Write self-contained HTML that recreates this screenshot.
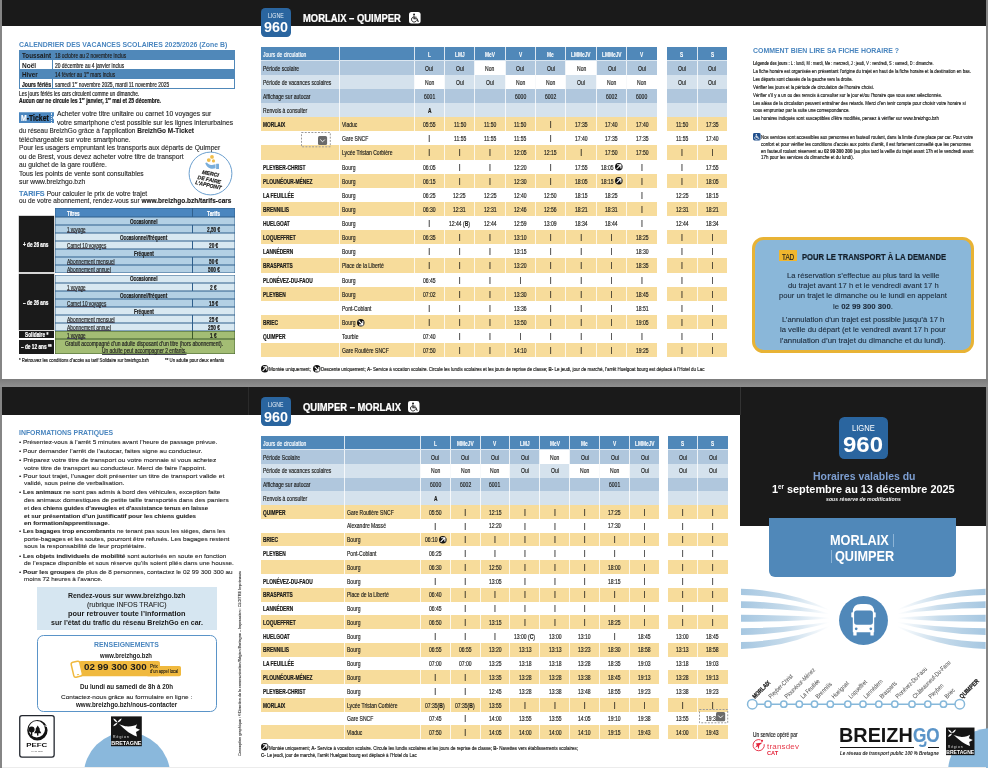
<!DOCTYPE html>
<html lang="fr"><head><meta charset="utf-8"><title>BreizhGo ligne 960 Morlaix – Quimper</title><style>
html,body{margin:0;padding:0}
body{width:988px;height:768px;overflow:hidden;background:#858585;position:relative;font-family:"Liberation Sans",sans-serif;color:#1d1d1b}
.b{position:absolute}
.t{position:absolute;white-space:nowrap;line-height:1;transform-origin:0 0}
svg{position:absolute;overflow:visible}
</style></head>
<body>
<div class="b" style="left:2.20px;top:0.00px;width:983.70px;height:378.50px;background:#fff;"></div>
<div class="b" style="left:2.20px;top:387.00px;width:983.70px;height:381.00px;background:#fff;"></div>
<div class="b" style="left:0.00px;top:378.50px;width:988.00px;height:8.50px;background:linear-gradient(#7c7c7c,#8f8f8f);"></div>
<div class="b" style="left:2.20px;top:0.00px;width:983.70px;height:25.70px;background:#1a1a1a;"></div>
<div class="b" style="left:2.20px;top:387.00px;width:246.00px;height:27.60px;background:#1a1a1a;"></div>
<div class="b" style="left:248.00px;top:387.00px;width:738.00px;height:28.10px;background:#1a1a1a;"></div>
<div class="b" style="left:740.20px;top:387.00px;width:245.70px;height:138.70px;background:#1a1a1a;"></div>
<div class="b" style="left:247.60px;top:387.00px;width:0.70px;height:28.00px;background:#2a2a2a;"></div>
<div class="b" style="left:739.80px;top:387.00px;width:0.80px;height:28.10px;background:#333;"></div>
<div class="b" style="left:261.00px;top:47.00px;width:396.00px;height:14.00px;background:#dce7f1;"></div>
<div class="b" style="left:667.00px;top:47.00px;width:60.00px;height:14.00px;background:#dce7f1;"></div>
<div class="b" style="left:261.00px;top:61.00px;width:396.00px;height:14.00px;background:#eff4f8;"></div>
<div class="b" style="left:667.00px;top:61.00px;width:60.00px;height:14.00px;background:#eff4f8;"></div>
<div class="b" style="left:261.00px;top:75.00px;width:396.00px;height:14.00px;background:#f7f9fb;"></div>
<div class="b" style="left:667.00px;top:75.00px;width:60.00px;height:14.00px;background:#f7f9fb;"></div>
<div class="b" style="left:261.00px;top:89.00px;width:396.00px;height:14.00px;background:#eff4f8;"></div>
<div class="b" style="left:667.00px;top:89.00px;width:60.00px;height:14.00px;background:#eff4f8;"></div>
<div class="b" style="left:261.00px;top:103.00px;width:396.00px;height:14.00px;background:#f7f9fb;"></div>
<div class="b" style="left:667.00px;top:103.00px;width:60.00px;height:14.00px;background:#f7f9fb;"></div>
<div class="b" style="left:261.00px;top:117.00px;width:396.00px;height:14.00px;background:#fdf8eb;"></div>
<div class="b" style="left:667.00px;top:117.00px;width:60.00px;height:14.00px;background:#fdf8eb;"></div>
<div class="b" style="left:261.00px;top:145.00px;width:396.00px;height:15.00px;background:#fdf8eb;"></div>
<div class="b" style="left:667.00px;top:145.00px;width:60.00px;height:15.00px;background:#fdf8eb;"></div>
<div class="b" style="left:261.00px;top:174.00px;width:396.00px;height:14.00px;background:#fdf8eb;"></div>
<div class="b" style="left:667.00px;top:174.00px;width:60.00px;height:14.00px;background:#fdf8eb;"></div>
<div class="b" style="left:261.00px;top:202.00px;width:396.00px;height:14.00px;background:#fdf8eb;"></div>
<div class="b" style="left:667.00px;top:202.00px;width:60.00px;height:14.00px;background:#fdf8eb;"></div>
<div class="b" style="left:261.00px;top:230.00px;width:396.00px;height:14.00px;background:#fdf8eb;"></div>
<div class="b" style="left:667.00px;top:230.00px;width:60.00px;height:14.00px;background:#fdf8eb;"></div>
<div class="b" style="left:261.00px;top:258.00px;width:396.00px;height:15.00px;background:#fdf8eb;"></div>
<div class="b" style="left:667.00px;top:258.00px;width:60.00px;height:15.00px;background:#fdf8eb;"></div>
<div class="b" style="left:261.00px;top:287.00px;width:396.00px;height:14.00px;background:#fdf8eb;"></div>
<div class="b" style="left:667.00px;top:287.00px;width:60.00px;height:14.00px;background:#fdf8eb;"></div>
<div class="b" style="left:261.00px;top:315.00px;width:396.00px;height:14.00px;background:#fdf8eb;"></div>
<div class="b" style="left:667.00px;top:315.00px;width:60.00px;height:14.00px;background:#fdf8eb;"></div>
<div class="b" style="left:261.00px;top:343.00px;width:396.00px;height:14.00px;background:#fdf8eb;"></div>
<div class="b" style="left:667.00px;top:343.00px;width:60.00px;height:14.00px;background:#fdf8eb;"></div>
<div class="b" style="left:261.00px;top:436.00px;width:398.00px;height:14.00px;background:#dce7f1;"></div>
<div class="b" style="left:668.00px;top:436.00px;width:60.00px;height:14.00px;background:#dce7f1;"></div>
<div class="b" style="left:261.00px;top:450.00px;width:398.00px;height:14.00px;background:#eff4f8;"></div>
<div class="b" style="left:668.00px;top:450.00px;width:60.00px;height:14.00px;background:#eff4f8;"></div>
<div class="b" style="left:261.00px;top:464.00px;width:398.00px;height:14.00px;background:#f7f9fb;"></div>
<div class="b" style="left:668.00px;top:464.00px;width:60.00px;height:14.00px;background:#f7f9fb;"></div>
<div class="b" style="left:261.00px;top:478.00px;width:398.00px;height:13.00px;background:#eff4f8;"></div>
<div class="b" style="left:668.00px;top:478.00px;width:60.00px;height:13.00px;background:#eff4f8;"></div>
<div class="b" style="left:261.00px;top:491.00px;width:398.00px;height:14.00px;background:#f7f9fb;"></div>
<div class="b" style="left:668.00px;top:491.00px;width:60.00px;height:14.00px;background:#f7f9fb;"></div>
<div class="b" style="left:261.00px;top:505.00px;width:398.00px;height:14.00px;background:#fdf8eb;"></div>
<div class="b" style="left:668.00px;top:505.00px;width:60.00px;height:14.00px;background:#fdf8eb;"></div>
<div class="b" style="left:261.00px;top:533.00px;width:398.00px;height:13.00px;background:#fdf8eb;"></div>
<div class="b" style="left:668.00px;top:533.00px;width:60.00px;height:13.00px;background:#fdf8eb;"></div>
<div class="b" style="left:261.00px;top:560.00px;width:398.00px;height:14.00px;background:#fdf8eb;"></div>
<div class="b" style="left:668.00px;top:560.00px;width:60.00px;height:14.00px;background:#fdf8eb;"></div>
<div class="b" style="left:261.00px;top:588.00px;width:398.00px;height:14.00px;background:#fdf8eb;"></div>
<div class="b" style="left:668.00px;top:588.00px;width:60.00px;height:14.00px;background:#fdf8eb;"></div>
<div class="b" style="left:261.00px;top:615.00px;width:398.00px;height:14.00px;background:#fdf8eb;"></div>
<div class="b" style="left:668.00px;top:615.00px;width:60.00px;height:14.00px;background:#fdf8eb;"></div>
<div class="b" style="left:261.00px;top:643.00px;width:398.00px;height:14.00px;background:#fdf8eb;"></div>
<div class="b" style="left:668.00px;top:643.00px;width:60.00px;height:14.00px;background:#fdf8eb;"></div>
<div class="b" style="left:261.00px;top:670.00px;width:398.00px;height:14.00px;background:#fdf8eb;"></div>
<div class="b" style="left:668.00px;top:670.00px;width:60.00px;height:14.00px;background:#fdf8eb;"></div>
<div class="b" style="left:261.00px;top:698.00px;width:398.00px;height:14.00px;background:#fdf8eb;"></div>
<div class="b" style="left:668.00px;top:698.00px;width:60.00px;height:14.00px;background:#fdf8eb;"></div>
<div class="b" style="left:261.00px;top:725.00px;width:398.00px;height:14.00px;background:#fdf8eb;"></div>
<div class="b" style="left:668.00px;top:725.00px;width:60.00px;height:14.00px;background:#fdf8eb;"></div>
<div class="b" style="left:261.00px;top:47.00px;width:78.00px;height:13.00px;background:#5088b9;"></div>
<div class="b" style="left:340.00px;top:47.00px;width:74.00px;height:13.00px;background:#5088b9;"></div>
<div class="b" style="left:415.00px;top:47.00px;width:29.00px;height:13.00px;background:#5088b9;"></div>
<div class="b" style="left:445.00px;top:47.00px;width:29.00px;height:13.00px;background:#5088b9;"></div>
<div class="b" style="left:475.00px;top:47.00px;width:30.00px;height:13.00px;background:#5088b9;"></div>
<div class="b" style="left:506.00px;top:47.00px;width:29.00px;height:13.00px;background:#5088b9;"></div>
<div class="b" style="left:536.00px;top:47.00px;width:29.00px;height:13.00px;background:#5088b9;"></div>
<div class="b" style="left:566.00px;top:47.00px;width:30.00px;height:13.00px;background:#5088b9;"></div>
<div class="b" style="left:597.00px;top:47.00px;width:29.00px;height:13.00px;background:#5088b9;"></div>
<div class="b" style="left:627.00px;top:47.00px;width:30.00px;height:13.00px;background:#5088b9;"></div>
<div class="b" style="left:667.00px;top:47.00px;width:30.00px;height:13.00px;background:#5088b9;"></div>
<div class="b" style="left:698.00px;top:47.00px;width:29.00px;height:13.00px;background:#5088b9;"></div>
<div class="b" style="left:261.00px;top:61.00px;width:78.00px;height:14.00px;background:#b0c7dd;"></div>
<div class="b" style="left:340.00px;top:61.00px;width:74.00px;height:14.00px;background:#b0c7dd;"></div>
<div class="b" style="left:415.00px;top:61.00px;width:29.00px;height:14.00px;background:#b0c7dd;"></div>
<div class="b" style="left:445.00px;top:61.00px;width:29.00px;height:14.00px;background:#b0c7dd;"></div>
<div class="b" style="left:475.00px;top:61.00px;width:30.00px;height:14.00px;background:#fff;"></div>
<div class="b" style="left:506.00px;top:61.00px;width:29.00px;height:14.00px;background:#b0c7dd;"></div>
<div class="b" style="left:536.00px;top:61.00px;width:29.00px;height:14.00px;background:#b0c7dd;"></div>
<div class="b" style="left:566.00px;top:61.00px;width:30.00px;height:14.00px;background:#fff;"></div>
<div class="b" style="left:597.00px;top:61.00px;width:29.00px;height:14.00px;background:#b0c7dd;"></div>
<div class="b" style="left:627.00px;top:61.00px;width:30.00px;height:14.00px;background:#b0c7dd;"></div>
<div class="b" style="left:667.00px;top:61.00px;width:30.00px;height:14.00px;background:#b0c7dd;"></div>
<div class="b" style="left:698.00px;top:61.00px;width:29.00px;height:14.00px;background:#b0c7dd;"></div>
<div class="b" style="left:261.00px;top:75.00px;width:78.00px;height:14.00px;background:#d5e2ed;"></div>
<div class="b" style="left:340.00px;top:75.00px;width:74.00px;height:14.00px;background:#d5e2ed;"></div>
<div class="b" style="left:415.00px;top:75.00px;width:29.00px;height:14.00px;background:#fff;"></div>
<div class="b" style="left:445.00px;top:75.00px;width:29.00px;height:14.00px;background:#d5e2ed;"></div>
<div class="b" style="left:475.00px;top:75.00px;width:30.00px;height:14.00px;background:#d5e2ed;"></div>
<div class="b" style="left:506.00px;top:75.00px;width:29.00px;height:14.00px;background:#fff;"></div>
<div class="b" style="left:536.00px;top:75.00px;width:29.00px;height:14.00px;background:#fff;"></div>
<div class="b" style="left:566.00px;top:75.00px;width:30.00px;height:14.00px;background:#d5e2ed;"></div>
<div class="b" style="left:597.00px;top:75.00px;width:29.00px;height:14.00px;background:#fff;"></div>
<div class="b" style="left:627.00px;top:75.00px;width:30.00px;height:14.00px;background:#fff;"></div>
<div class="b" style="left:667.00px;top:75.00px;width:30.00px;height:14.00px;background:#d5e2ed;"></div>
<div class="b" style="left:698.00px;top:75.00px;width:29.00px;height:14.00px;background:#d5e2ed;"></div>
<div class="b" style="left:261.00px;top:89.00px;width:78.00px;height:14.00px;background:#b0c7dd;"></div>
<div class="b" style="left:340.00px;top:89.00px;width:74.00px;height:14.00px;background:#b0c7dd;"></div>
<div class="b" style="left:415.00px;top:89.00px;width:29.00px;height:14.00px;background:#b0c7dd;"></div>
<div class="b" style="left:445.00px;top:89.00px;width:29.00px;height:14.00px;background:#b0c7dd;"></div>
<div class="b" style="left:475.00px;top:89.00px;width:30.00px;height:14.00px;background:#b0c7dd;"></div>
<div class="b" style="left:506.00px;top:89.00px;width:29.00px;height:14.00px;background:#b0c7dd;"></div>
<div class="b" style="left:536.00px;top:89.00px;width:29.00px;height:14.00px;background:#b0c7dd;"></div>
<div class="b" style="left:566.00px;top:89.00px;width:30.00px;height:14.00px;background:#b0c7dd;"></div>
<div class="b" style="left:597.00px;top:89.00px;width:29.00px;height:14.00px;background:#b0c7dd;"></div>
<div class="b" style="left:627.00px;top:89.00px;width:30.00px;height:14.00px;background:#b0c7dd;"></div>
<div class="b" style="left:667.00px;top:89.00px;width:30.00px;height:14.00px;background:#b0c7dd;"></div>
<div class="b" style="left:698.00px;top:89.00px;width:29.00px;height:14.00px;background:#b0c7dd;"></div>
<div class="b" style="left:261.00px;top:103.00px;width:78.00px;height:14.00px;background:#d5e2ed;"></div>
<div class="b" style="left:340.00px;top:103.00px;width:74.00px;height:14.00px;background:#d5e2ed;"></div>
<div class="b" style="left:415.00px;top:103.00px;width:29.00px;height:14.00px;background:#d5e2ed;"></div>
<div class="b" style="left:445.00px;top:103.00px;width:29.00px;height:14.00px;background:#d5e2ed;"></div>
<div class="b" style="left:475.00px;top:103.00px;width:30.00px;height:14.00px;background:#d5e2ed;"></div>
<div class="b" style="left:506.00px;top:103.00px;width:29.00px;height:14.00px;background:#d5e2ed;"></div>
<div class="b" style="left:536.00px;top:103.00px;width:29.00px;height:14.00px;background:#d5e2ed;"></div>
<div class="b" style="left:566.00px;top:103.00px;width:30.00px;height:14.00px;background:#d5e2ed;"></div>
<div class="b" style="left:597.00px;top:103.00px;width:29.00px;height:14.00px;background:#d5e2ed;"></div>
<div class="b" style="left:627.00px;top:103.00px;width:30.00px;height:14.00px;background:#d5e2ed;"></div>
<div class="b" style="left:667.00px;top:103.00px;width:30.00px;height:14.00px;background:#d5e2ed;"></div>
<div class="b" style="left:698.00px;top:103.00px;width:29.00px;height:14.00px;background:#d5e2ed;"></div>
<div class="b" style="left:261.00px;top:117.00px;width:78.00px;height:14.00px;background:#f7dc9b;"></div>
<div class="b" style="left:340.00px;top:117.00px;width:74.00px;height:14.00px;background:#f7dc9b;"></div>
<div class="b" style="left:415.00px;top:117.00px;width:29.00px;height:14.00px;background:#f7dc9b;"></div>
<div class="b" style="left:445.00px;top:117.00px;width:29.00px;height:14.00px;background:#f7dc9b;"></div>
<div class="b" style="left:475.00px;top:117.00px;width:30.00px;height:14.00px;background:#f7dc9b;"></div>
<div class="b" style="left:506.00px;top:117.00px;width:29.00px;height:14.00px;background:#f7dc9b;"></div>
<div class="b" style="left:536.00px;top:117.00px;width:29.00px;height:14.00px;background:#f7dc9b;"></div>
<div class="b" style="left:566.00px;top:117.00px;width:30.00px;height:14.00px;background:#f7dc9b;"></div>
<div class="b" style="left:597.00px;top:117.00px;width:29.00px;height:14.00px;background:#f7dc9b;"></div>
<div class="b" style="left:627.00px;top:117.00px;width:30.00px;height:14.00px;background:#f7dc9b;"></div>
<div class="b" style="left:667.00px;top:117.00px;width:30.00px;height:14.00px;background:#f7dc9b;"></div>
<div class="b" style="left:698.00px;top:117.00px;width:29.00px;height:14.00px;background:#f7dc9b;"></div>
<div class="b" style="left:261.00px;top:145.00px;width:78.00px;height:15.00px;background:#f7dc9b;"></div>
<div class="b" style="left:340.00px;top:145.00px;width:74.00px;height:15.00px;background:#f7dc9b;"></div>
<div class="b" style="left:415.00px;top:145.00px;width:29.00px;height:15.00px;background:#f7dc9b;"></div>
<div class="b" style="left:445.00px;top:145.00px;width:29.00px;height:15.00px;background:#f7dc9b;"></div>
<div class="b" style="left:475.00px;top:145.00px;width:30.00px;height:15.00px;background:#f7dc9b;"></div>
<div class="b" style="left:506.00px;top:145.00px;width:29.00px;height:15.00px;background:#f7dc9b;"></div>
<div class="b" style="left:536.00px;top:145.00px;width:29.00px;height:15.00px;background:#f7dc9b;"></div>
<div class="b" style="left:566.00px;top:145.00px;width:30.00px;height:15.00px;background:#f7dc9b;"></div>
<div class="b" style="left:597.00px;top:145.00px;width:29.00px;height:15.00px;background:#f7dc9b;"></div>
<div class="b" style="left:627.00px;top:145.00px;width:30.00px;height:15.00px;background:#f7dc9b;"></div>
<div class="b" style="left:667.00px;top:145.00px;width:30.00px;height:15.00px;background:#f7dc9b;"></div>
<div class="b" style="left:698.00px;top:145.00px;width:29.00px;height:15.00px;background:#f7dc9b;"></div>
<div class="b" style="left:261.00px;top:174.00px;width:78.00px;height:14.00px;background:#f7dc9b;"></div>
<div class="b" style="left:340.00px;top:174.00px;width:74.00px;height:14.00px;background:#f7dc9b;"></div>
<div class="b" style="left:415.00px;top:174.00px;width:29.00px;height:14.00px;background:#f7dc9b;"></div>
<div class="b" style="left:445.00px;top:174.00px;width:29.00px;height:14.00px;background:#f7dc9b;"></div>
<div class="b" style="left:475.00px;top:174.00px;width:30.00px;height:14.00px;background:#f7dc9b;"></div>
<div class="b" style="left:506.00px;top:174.00px;width:29.00px;height:14.00px;background:#f7dc9b;"></div>
<div class="b" style="left:536.00px;top:174.00px;width:29.00px;height:14.00px;background:#f7dc9b;"></div>
<div class="b" style="left:566.00px;top:174.00px;width:30.00px;height:14.00px;background:#f7dc9b;"></div>
<div class="b" style="left:597.00px;top:174.00px;width:29.00px;height:14.00px;background:#f7dc9b;"></div>
<div class="b" style="left:627.00px;top:174.00px;width:30.00px;height:14.00px;background:#f7dc9b;"></div>
<div class="b" style="left:667.00px;top:174.00px;width:30.00px;height:14.00px;background:#f7dc9b;"></div>
<div class="b" style="left:698.00px;top:174.00px;width:29.00px;height:14.00px;background:#f7dc9b;"></div>
<div class="b" style="left:261.00px;top:202.00px;width:78.00px;height:14.00px;background:#f7dc9b;"></div>
<div class="b" style="left:340.00px;top:202.00px;width:74.00px;height:14.00px;background:#f7dc9b;"></div>
<div class="b" style="left:415.00px;top:202.00px;width:29.00px;height:14.00px;background:#f7dc9b;"></div>
<div class="b" style="left:445.00px;top:202.00px;width:29.00px;height:14.00px;background:#f7dc9b;"></div>
<div class="b" style="left:475.00px;top:202.00px;width:30.00px;height:14.00px;background:#f7dc9b;"></div>
<div class="b" style="left:506.00px;top:202.00px;width:29.00px;height:14.00px;background:#f7dc9b;"></div>
<div class="b" style="left:536.00px;top:202.00px;width:29.00px;height:14.00px;background:#f7dc9b;"></div>
<div class="b" style="left:566.00px;top:202.00px;width:30.00px;height:14.00px;background:#f7dc9b;"></div>
<div class="b" style="left:597.00px;top:202.00px;width:29.00px;height:14.00px;background:#f7dc9b;"></div>
<div class="b" style="left:627.00px;top:202.00px;width:30.00px;height:14.00px;background:#f7dc9b;"></div>
<div class="b" style="left:667.00px;top:202.00px;width:30.00px;height:14.00px;background:#f7dc9b;"></div>
<div class="b" style="left:698.00px;top:202.00px;width:29.00px;height:14.00px;background:#f7dc9b;"></div>
<div class="b" style="left:261.00px;top:230.00px;width:78.00px;height:14.00px;background:#f7dc9b;"></div>
<div class="b" style="left:340.00px;top:230.00px;width:74.00px;height:14.00px;background:#f7dc9b;"></div>
<div class="b" style="left:415.00px;top:230.00px;width:29.00px;height:14.00px;background:#f7dc9b;"></div>
<div class="b" style="left:445.00px;top:230.00px;width:29.00px;height:14.00px;background:#f7dc9b;"></div>
<div class="b" style="left:475.00px;top:230.00px;width:30.00px;height:14.00px;background:#f7dc9b;"></div>
<div class="b" style="left:506.00px;top:230.00px;width:29.00px;height:14.00px;background:#f7dc9b;"></div>
<div class="b" style="left:536.00px;top:230.00px;width:29.00px;height:14.00px;background:#f7dc9b;"></div>
<div class="b" style="left:566.00px;top:230.00px;width:30.00px;height:14.00px;background:#f7dc9b;"></div>
<div class="b" style="left:597.00px;top:230.00px;width:29.00px;height:14.00px;background:#f7dc9b;"></div>
<div class="b" style="left:627.00px;top:230.00px;width:30.00px;height:14.00px;background:#f7dc9b;"></div>
<div class="b" style="left:667.00px;top:230.00px;width:30.00px;height:14.00px;background:#f7dc9b;"></div>
<div class="b" style="left:698.00px;top:230.00px;width:29.00px;height:14.00px;background:#f7dc9b;"></div>
<div class="b" style="left:261.00px;top:258.00px;width:78.00px;height:15.00px;background:#f7dc9b;"></div>
<div class="b" style="left:340.00px;top:258.00px;width:74.00px;height:15.00px;background:#f7dc9b;"></div>
<div class="b" style="left:415.00px;top:258.00px;width:29.00px;height:15.00px;background:#f7dc9b;"></div>
<div class="b" style="left:445.00px;top:258.00px;width:29.00px;height:15.00px;background:#f7dc9b;"></div>
<div class="b" style="left:475.00px;top:258.00px;width:30.00px;height:15.00px;background:#f7dc9b;"></div>
<div class="b" style="left:506.00px;top:258.00px;width:29.00px;height:15.00px;background:#f7dc9b;"></div>
<div class="b" style="left:536.00px;top:258.00px;width:29.00px;height:15.00px;background:#f7dc9b;"></div>
<div class="b" style="left:566.00px;top:258.00px;width:30.00px;height:15.00px;background:#f7dc9b;"></div>
<div class="b" style="left:597.00px;top:258.00px;width:29.00px;height:15.00px;background:#f7dc9b;"></div>
<div class="b" style="left:627.00px;top:258.00px;width:30.00px;height:15.00px;background:#f7dc9b;"></div>
<div class="b" style="left:667.00px;top:258.00px;width:30.00px;height:15.00px;background:#f7dc9b;"></div>
<div class="b" style="left:698.00px;top:258.00px;width:29.00px;height:15.00px;background:#f7dc9b;"></div>
<div class="b" style="left:261.00px;top:287.00px;width:78.00px;height:14.00px;background:#f7dc9b;"></div>
<div class="b" style="left:340.00px;top:287.00px;width:74.00px;height:14.00px;background:#f7dc9b;"></div>
<div class="b" style="left:415.00px;top:287.00px;width:29.00px;height:14.00px;background:#f7dc9b;"></div>
<div class="b" style="left:445.00px;top:287.00px;width:29.00px;height:14.00px;background:#f7dc9b;"></div>
<div class="b" style="left:475.00px;top:287.00px;width:30.00px;height:14.00px;background:#f7dc9b;"></div>
<div class="b" style="left:506.00px;top:287.00px;width:29.00px;height:14.00px;background:#f7dc9b;"></div>
<div class="b" style="left:536.00px;top:287.00px;width:29.00px;height:14.00px;background:#f7dc9b;"></div>
<div class="b" style="left:566.00px;top:287.00px;width:30.00px;height:14.00px;background:#f7dc9b;"></div>
<div class="b" style="left:597.00px;top:287.00px;width:29.00px;height:14.00px;background:#f7dc9b;"></div>
<div class="b" style="left:627.00px;top:287.00px;width:30.00px;height:14.00px;background:#f7dc9b;"></div>
<div class="b" style="left:667.00px;top:287.00px;width:30.00px;height:14.00px;background:#f7dc9b;"></div>
<div class="b" style="left:698.00px;top:287.00px;width:29.00px;height:14.00px;background:#f7dc9b;"></div>
<div class="b" style="left:261.00px;top:315.00px;width:78.00px;height:14.00px;background:#f7dc9b;"></div>
<div class="b" style="left:340.00px;top:315.00px;width:74.00px;height:14.00px;background:#f7dc9b;"></div>
<div class="b" style="left:415.00px;top:315.00px;width:29.00px;height:14.00px;background:#f7dc9b;"></div>
<div class="b" style="left:445.00px;top:315.00px;width:29.00px;height:14.00px;background:#f7dc9b;"></div>
<div class="b" style="left:475.00px;top:315.00px;width:30.00px;height:14.00px;background:#f7dc9b;"></div>
<div class="b" style="left:506.00px;top:315.00px;width:29.00px;height:14.00px;background:#f7dc9b;"></div>
<div class="b" style="left:536.00px;top:315.00px;width:29.00px;height:14.00px;background:#f7dc9b;"></div>
<div class="b" style="left:566.00px;top:315.00px;width:30.00px;height:14.00px;background:#f7dc9b;"></div>
<div class="b" style="left:597.00px;top:315.00px;width:29.00px;height:14.00px;background:#f7dc9b;"></div>
<div class="b" style="left:627.00px;top:315.00px;width:30.00px;height:14.00px;background:#f7dc9b;"></div>
<div class="b" style="left:667.00px;top:315.00px;width:30.00px;height:14.00px;background:#f7dc9b;"></div>
<div class="b" style="left:698.00px;top:315.00px;width:29.00px;height:14.00px;background:#f7dc9b;"></div>
<div class="b" style="left:261.00px;top:343.00px;width:78.00px;height:14.00px;background:#f7dc9b;"></div>
<div class="b" style="left:340.00px;top:343.00px;width:74.00px;height:14.00px;background:#f7dc9b;"></div>
<div class="b" style="left:415.00px;top:343.00px;width:29.00px;height:14.00px;background:#f7dc9b;"></div>
<div class="b" style="left:445.00px;top:343.00px;width:29.00px;height:14.00px;background:#f7dc9b;"></div>
<div class="b" style="left:475.00px;top:343.00px;width:30.00px;height:14.00px;background:#f7dc9b;"></div>
<div class="b" style="left:506.00px;top:343.00px;width:29.00px;height:14.00px;background:#f7dc9b;"></div>
<div class="b" style="left:536.00px;top:343.00px;width:29.00px;height:14.00px;background:#f7dc9b;"></div>
<div class="b" style="left:566.00px;top:343.00px;width:30.00px;height:14.00px;background:#f7dc9b;"></div>
<div class="b" style="left:597.00px;top:343.00px;width:29.00px;height:14.00px;background:#f7dc9b;"></div>
<div class="b" style="left:627.00px;top:343.00px;width:30.00px;height:14.00px;background:#f7dc9b;"></div>
<div class="b" style="left:667.00px;top:343.00px;width:30.00px;height:14.00px;background:#f7dc9b;"></div>
<div class="b" style="left:698.00px;top:343.00px;width:29.00px;height:14.00px;background:#f7dc9b;"></div>
<div class="b" style="left:261.00px;top:436.00px;width:83.00px;height:13.00px;background:#5088b9;"></div>
<div class="b" style="left:345.00px;top:436.00px;width:75.00px;height:13.00px;background:#5088b9;"></div>
<div class="b" style="left:421.00px;top:436.00px;width:29.00px;height:13.00px;background:#5088b9;"></div>
<div class="b" style="left:451.00px;top:436.00px;width:29.00px;height:13.00px;background:#5088b9;"></div>
<div class="b" style="left:481.00px;top:436.00px;width:28.00px;height:13.00px;background:#5088b9;"></div>
<div class="b" style="left:510.00px;top:436.00px;width:29.00px;height:13.00px;background:#5088b9;"></div>
<div class="b" style="left:540.00px;top:436.00px;width:29.00px;height:13.00px;background:#5088b9;"></div>
<div class="b" style="left:570.00px;top:436.00px;width:29.00px;height:13.00px;background:#5088b9;"></div>
<div class="b" style="left:600.00px;top:436.00px;width:29.00px;height:13.00px;background:#5088b9;"></div>
<div class="b" style="left:630.00px;top:436.00px;width:29.00px;height:13.00px;background:#5088b9;"></div>
<div class="b" style="left:668.00px;top:436.00px;width:29.00px;height:13.00px;background:#5088b9;"></div>
<div class="b" style="left:698.00px;top:436.00px;width:30.00px;height:13.00px;background:#5088b9;"></div>
<div class="b" style="left:261.00px;top:450.00px;width:83.00px;height:14.00px;background:#b0c7dd;"></div>
<div class="b" style="left:345.00px;top:450.00px;width:75.00px;height:14.00px;background:#b0c7dd;"></div>
<div class="b" style="left:421.00px;top:450.00px;width:29.00px;height:14.00px;background:#b0c7dd;"></div>
<div class="b" style="left:451.00px;top:450.00px;width:29.00px;height:14.00px;background:#b0c7dd;"></div>
<div class="b" style="left:481.00px;top:450.00px;width:28.00px;height:14.00px;background:#b0c7dd;"></div>
<div class="b" style="left:510.00px;top:450.00px;width:29.00px;height:14.00px;background:#b0c7dd;"></div>
<div class="b" style="left:540.00px;top:450.00px;width:29.00px;height:14.00px;background:#fff;"></div>
<div class="b" style="left:570.00px;top:450.00px;width:29.00px;height:14.00px;background:#b0c7dd;"></div>
<div class="b" style="left:600.00px;top:450.00px;width:29.00px;height:14.00px;background:#b0c7dd;"></div>
<div class="b" style="left:630.00px;top:450.00px;width:29.00px;height:14.00px;background:#b0c7dd;"></div>
<div class="b" style="left:668.00px;top:450.00px;width:29.00px;height:14.00px;background:#b0c7dd;"></div>
<div class="b" style="left:698.00px;top:450.00px;width:30.00px;height:14.00px;background:#b0c7dd;"></div>
<div class="b" style="left:261.00px;top:464.00px;width:83.00px;height:14.00px;background:#d5e2ed;"></div>
<div class="b" style="left:345.00px;top:464.00px;width:75.00px;height:14.00px;background:#d5e2ed;"></div>
<div class="b" style="left:421.00px;top:464.00px;width:29.00px;height:14.00px;background:#fff;"></div>
<div class="b" style="left:451.00px;top:464.00px;width:29.00px;height:14.00px;background:#fff;"></div>
<div class="b" style="left:481.00px;top:464.00px;width:28.00px;height:14.00px;background:#fff;"></div>
<div class="b" style="left:510.00px;top:464.00px;width:29.00px;height:14.00px;background:#d5e2ed;"></div>
<div class="b" style="left:540.00px;top:464.00px;width:29.00px;height:14.00px;background:#d5e2ed;"></div>
<div class="b" style="left:570.00px;top:464.00px;width:29.00px;height:14.00px;background:#fff;"></div>
<div class="b" style="left:600.00px;top:464.00px;width:29.00px;height:14.00px;background:#fff;"></div>
<div class="b" style="left:630.00px;top:464.00px;width:29.00px;height:14.00px;background:#d5e2ed;"></div>
<div class="b" style="left:668.00px;top:464.00px;width:29.00px;height:14.00px;background:#d5e2ed;"></div>
<div class="b" style="left:698.00px;top:464.00px;width:30.00px;height:14.00px;background:#d5e2ed;"></div>
<div class="b" style="left:261.00px;top:478.00px;width:83.00px;height:13.00px;background:#b0c7dd;"></div>
<div class="b" style="left:345.00px;top:478.00px;width:75.00px;height:13.00px;background:#b0c7dd;"></div>
<div class="b" style="left:421.00px;top:478.00px;width:29.00px;height:13.00px;background:#b0c7dd;"></div>
<div class="b" style="left:451.00px;top:478.00px;width:29.00px;height:13.00px;background:#b0c7dd;"></div>
<div class="b" style="left:481.00px;top:478.00px;width:28.00px;height:13.00px;background:#b0c7dd;"></div>
<div class="b" style="left:510.00px;top:478.00px;width:29.00px;height:13.00px;background:#b0c7dd;"></div>
<div class="b" style="left:540.00px;top:478.00px;width:29.00px;height:13.00px;background:#b0c7dd;"></div>
<div class="b" style="left:570.00px;top:478.00px;width:29.00px;height:13.00px;background:#b0c7dd;"></div>
<div class="b" style="left:600.00px;top:478.00px;width:29.00px;height:13.00px;background:#b0c7dd;"></div>
<div class="b" style="left:630.00px;top:478.00px;width:29.00px;height:13.00px;background:#b0c7dd;"></div>
<div class="b" style="left:668.00px;top:478.00px;width:29.00px;height:13.00px;background:#b0c7dd;"></div>
<div class="b" style="left:698.00px;top:478.00px;width:30.00px;height:13.00px;background:#b0c7dd;"></div>
<div class="b" style="left:261.00px;top:491.00px;width:83.00px;height:14.00px;background:#d5e2ed;"></div>
<div class="b" style="left:345.00px;top:491.00px;width:75.00px;height:14.00px;background:#d5e2ed;"></div>
<div class="b" style="left:421.00px;top:491.00px;width:29.00px;height:14.00px;background:#d5e2ed;"></div>
<div class="b" style="left:451.00px;top:491.00px;width:29.00px;height:14.00px;background:#d5e2ed;"></div>
<div class="b" style="left:481.00px;top:491.00px;width:28.00px;height:14.00px;background:#d5e2ed;"></div>
<div class="b" style="left:510.00px;top:491.00px;width:29.00px;height:14.00px;background:#d5e2ed;"></div>
<div class="b" style="left:540.00px;top:491.00px;width:29.00px;height:14.00px;background:#d5e2ed;"></div>
<div class="b" style="left:570.00px;top:491.00px;width:29.00px;height:14.00px;background:#d5e2ed;"></div>
<div class="b" style="left:600.00px;top:491.00px;width:29.00px;height:14.00px;background:#d5e2ed;"></div>
<div class="b" style="left:630.00px;top:491.00px;width:29.00px;height:14.00px;background:#d5e2ed;"></div>
<div class="b" style="left:668.00px;top:491.00px;width:29.00px;height:14.00px;background:#d5e2ed;"></div>
<div class="b" style="left:698.00px;top:491.00px;width:30.00px;height:14.00px;background:#d5e2ed;"></div>
<div class="b" style="left:261.00px;top:505.00px;width:83.00px;height:14.00px;background:#f7dc9b;"></div>
<div class="b" style="left:345.00px;top:505.00px;width:75.00px;height:14.00px;background:#f7dc9b;"></div>
<div class="b" style="left:421.00px;top:505.00px;width:29.00px;height:14.00px;background:#f7dc9b;"></div>
<div class="b" style="left:451.00px;top:505.00px;width:29.00px;height:14.00px;background:#f7dc9b;"></div>
<div class="b" style="left:481.00px;top:505.00px;width:28.00px;height:14.00px;background:#f7dc9b;"></div>
<div class="b" style="left:510.00px;top:505.00px;width:29.00px;height:14.00px;background:#f7dc9b;"></div>
<div class="b" style="left:540.00px;top:505.00px;width:29.00px;height:14.00px;background:#f7dc9b;"></div>
<div class="b" style="left:570.00px;top:505.00px;width:29.00px;height:14.00px;background:#f7dc9b;"></div>
<div class="b" style="left:600.00px;top:505.00px;width:29.00px;height:14.00px;background:#f7dc9b;"></div>
<div class="b" style="left:630.00px;top:505.00px;width:29.00px;height:14.00px;background:#f7dc9b;"></div>
<div class="b" style="left:668.00px;top:505.00px;width:29.00px;height:14.00px;background:#f7dc9b;"></div>
<div class="b" style="left:698.00px;top:505.00px;width:30.00px;height:14.00px;background:#f7dc9b;"></div>
<div class="b" style="left:261.00px;top:533.00px;width:83.00px;height:13.00px;background:#f7dc9b;"></div>
<div class="b" style="left:345.00px;top:533.00px;width:75.00px;height:13.00px;background:#f7dc9b;"></div>
<div class="b" style="left:421.00px;top:533.00px;width:29.00px;height:13.00px;background:#f7dc9b;"></div>
<div class="b" style="left:451.00px;top:533.00px;width:29.00px;height:13.00px;background:#f7dc9b;"></div>
<div class="b" style="left:481.00px;top:533.00px;width:28.00px;height:13.00px;background:#f7dc9b;"></div>
<div class="b" style="left:510.00px;top:533.00px;width:29.00px;height:13.00px;background:#f7dc9b;"></div>
<div class="b" style="left:540.00px;top:533.00px;width:29.00px;height:13.00px;background:#f7dc9b;"></div>
<div class="b" style="left:570.00px;top:533.00px;width:29.00px;height:13.00px;background:#f7dc9b;"></div>
<div class="b" style="left:600.00px;top:533.00px;width:29.00px;height:13.00px;background:#f7dc9b;"></div>
<div class="b" style="left:630.00px;top:533.00px;width:29.00px;height:13.00px;background:#f7dc9b;"></div>
<div class="b" style="left:668.00px;top:533.00px;width:29.00px;height:13.00px;background:#f7dc9b;"></div>
<div class="b" style="left:698.00px;top:533.00px;width:30.00px;height:13.00px;background:#f7dc9b;"></div>
<div class="b" style="left:261.00px;top:560.00px;width:83.00px;height:14.00px;background:#f7dc9b;"></div>
<div class="b" style="left:345.00px;top:560.00px;width:75.00px;height:14.00px;background:#f7dc9b;"></div>
<div class="b" style="left:421.00px;top:560.00px;width:29.00px;height:14.00px;background:#f7dc9b;"></div>
<div class="b" style="left:451.00px;top:560.00px;width:29.00px;height:14.00px;background:#f7dc9b;"></div>
<div class="b" style="left:481.00px;top:560.00px;width:28.00px;height:14.00px;background:#f7dc9b;"></div>
<div class="b" style="left:510.00px;top:560.00px;width:29.00px;height:14.00px;background:#f7dc9b;"></div>
<div class="b" style="left:540.00px;top:560.00px;width:29.00px;height:14.00px;background:#f7dc9b;"></div>
<div class="b" style="left:570.00px;top:560.00px;width:29.00px;height:14.00px;background:#f7dc9b;"></div>
<div class="b" style="left:600.00px;top:560.00px;width:29.00px;height:14.00px;background:#f7dc9b;"></div>
<div class="b" style="left:630.00px;top:560.00px;width:29.00px;height:14.00px;background:#f7dc9b;"></div>
<div class="b" style="left:668.00px;top:560.00px;width:29.00px;height:14.00px;background:#f7dc9b;"></div>
<div class="b" style="left:698.00px;top:560.00px;width:30.00px;height:14.00px;background:#f7dc9b;"></div>
<div class="b" style="left:261.00px;top:588.00px;width:83.00px;height:14.00px;background:#f7dc9b;"></div>
<div class="b" style="left:345.00px;top:588.00px;width:75.00px;height:14.00px;background:#f7dc9b;"></div>
<div class="b" style="left:421.00px;top:588.00px;width:29.00px;height:14.00px;background:#f7dc9b;"></div>
<div class="b" style="left:451.00px;top:588.00px;width:29.00px;height:14.00px;background:#f7dc9b;"></div>
<div class="b" style="left:481.00px;top:588.00px;width:28.00px;height:14.00px;background:#f7dc9b;"></div>
<div class="b" style="left:510.00px;top:588.00px;width:29.00px;height:14.00px;background:#f7dc9b;"></div>
<div class="b" style="left:540.00px;top:588.00px;width:29.00px;height:14.00px;background:#f7dc9b;"></div>
<div class="b" style="left:570.00px;top:588.00px;width:29.00px;height:14.00px;background:#f7dc9b;"></div>
<div class="b" style="left:600.00px;top:588.00px;width:29.00px;height:14.00px;background:#f7dc9b;"></div>
<div class="b" style="left:630.00px;top:588.00px;width:29.00px;height:14.00px;background:#f7dc9b;"></div>
<div class="b" style="left:668.00px;top:588.00px;width:29.00px;height:14.00px;background:#f7dc9b;"></div>
<div class="b" style="left:698.00px;top:588.00px;width:30.00px;height:14.00px;background:#f7dc9b;"></div>
<div class="b" style="left:261.00px;top:615.00px;width:83.00px;height:14.00px;background:#f7dc9b;"></div>
<div class="b" style="left:345.00px;top:615.00px;width:75.00px;height:14.00px;background:#f7dc9b;"></div>
<div class="b" style="left:421.00px;top:615.00px;width:29.00px;height:14.00px;background:#f7dc9b;"></div>
<div class="b" style="left:451.00px;top:615.00px;width:29.00px;height:14.00px;background:#f7dc9b;"></div>
<div class="b" style="left:481.00px;top:615.00px;width:28.00px;height:14.00px;background:#f7dc9b;"></div>
<div class="b" style="left:510.00px;top:615.00px;width:29.00px;height:14.00px;background:#f7dc9b;"></div>
<div class="b" style="left:540.00px;top:615.00px;width:29.00px;height:14.00px;background:#f7dc9b;"></div>
<div class="b" style="left:570.00px;top:615.00px;width:29.00px;height:14.00px;background:#f7dc9b;"></div>
<div class="b" style="left:600.00px;top:615.00px;width:29.00px;height:14.00px;background:#f7dc9b;"></div>
<div class="b" style="left:630.00px;top:615.00px;width:29.00px;height:14.00px;background:#f7dc9b;"></div>
<div class="b" style="left:668.00px;top:615.00px;width:29.00px;height:14.00px;background:#f7dc9b;"></div>
<div class="b" style="left:698.00px;top:615.00px;width:30.00px;height:14.00px;background:#f7dc9b;"></div>
<div class="b" style="left:261.00px;top:643.00px;width:83.00px;height:14.00px;background:#f7dc9b;"></div>
<div class="b" style="left:345.00px;top:643.00px;width:75.00px;height:14.00px;background:#f7dc9b;"></div>
<div class="b" style="left:421.00px;top:643.00px;width:29.00px;height:14.00px;background:#f7dc9b;"></div>
<div class="b" style="left:451.00px;top:643.00px;width:29.00px;height:14.00px;background:#f7dc9b;"></div>
<div class="b" style="left:481.00px;top:643.00px;width:28.00px;height:14.00px;background:#f7dc9b;"></div>
<div class="b" style="left:510.00px;top:643.00px;width:29.00px;height:14.00px;background:#f7dc9b;"></div>
<div class="b" style="left:540.00px;top:643.00px;width:29.00px;height:14.00px;background:#f7dc9b;"></div>
<div class="b" style="left:570.00px;top:643.00px;width:29.00px;height:14.00px;background:#f7dc9b;"></div>
<div class="b" style="left:600.00px;top:643.00px;width:29.00px;height:14.00px;background:#f7dc9b;"></div>
<div class="b" style="left:630.00px;top:643.00px;width:29.00px;height:14.00px;background:#f7dc9b;"></div>
<div class="b" style="left:668.00px;top:643.00px;width:29.00px;height:14.00px;background:#f7dc9b;"></div>
<div class="b" style="left:698.00px;top:643.00px;width:30.00px;height:14.00px;background:#f7dc9b;"></div>
<div class="b" style="left:261.00px;top:670.00px;width:83.00px;height:14.00px;background:#f7dc9b;"></div>
<div class="b" style="left:345.00px;top:670.00px;width:75.00px;height:14.00px;background:#f7dc9b;"></div>
<div class="b" style="left:421.00px;top:670.00px;width:29.00px;height:14.00px;background:#f7dc9b;"></div>
<div class="b" style="left:451.00px;top:670.00px;width:29.00px;height:14.00px;background:#f7dc9b;"></div>
<div class="b" style="left:481.00px;top:670.00px;width:28.00px;height:14.00px;background:#f7dc9b;"></div>
<div class="b" style="left:510.00px;top:670.00px;width:29.00px;height:14.00px;background:#f7dc9b;"></div>
<div class="b" style="left:540.00px;top:670.00px;width:29.00px;height:14.00px;background:#f7dc9b;"></div>
<div class="b" style="left:570.00px;top:670.00px;width:29.00px;height:14.00px;background:#f7dc9b;"></div>
<div class="b" style="left:600.00px;top:670.00px;width:29.00px;height:14.00px;background:#f7dc9b;"></div>
<div class="b" style="left:630.00px;top:670.00px;width:29.00px;height:14.00px;background:#f7dc9b;"></div>
<div class="b" style="left:668.00px;top:670.00px;width:29.00px;height:14.00px;background:#f7dc9b;"></div>
<div class="b" style="left:698.00px;top:670.00px;width:30.00px;height:14.00px;background:#f7dc9b;"></div>
<div class="b" style="left:261.00px;top:698.00px;width:83.00px;height:14.00px;background:#f7dc9b;"></div>
<div class="b" style="left:345.00px;top:698.00px;width:75.00px;height:14.00px;background:#f7dc9b;"></div>
<div class="b" style="left:421.00px;top:698.00px;width:29.00px;height:14.00px;background:#f7dc9b;"></div>
<div class="b" style="left:451.00px;top:698.00px;width:29.00px;height:14.00px;background:#f7dc9b;"></div>
<div class="b" style="left:481.00px;top:698.00px;width:28.00px;height:14.00px;background:#f7dc9b;"></div>
<div class="b" style="left:510.00px;top:698.00px;width:29.00px;height:14.00px;background:#f7dc9b;"></div>
<div class="b" style="left:540.00px;top:698.00px;width:29.00px;height:14.00px;background:#f7dc9b;"></div>
<div class="b" style="left:570.00px;top:698.00px;width:29.00px;height:14.00px;background:#f7dc9b;"></div>
<div class="b" style="left:600.00px;top:698.00px;width:29.00px;height:14.00px;background:#f7dc9b;"></div>
<div class="b" style="left:630.00px;top:698.00px;width:29.00px;height:14.00px;background:#f7dc9b;"></div>
<div class="b" style="left:668.00px;top:698.00px;width:29.00px;height:14.00px;background:#f7dc9b;"></div>
<div class="b" style="left:698.00px;top:698.00px;width:30.00px;height:14.00px;background:#f7dc9b;"></div>
<div class="b" style="left:261.00px;top:725.00px;width:83.00px;height:14.00px;background:#f7dc9b;"></div>
<div class="b" style="left:345.00px;top:725.00px;width:75.00px;height:14.00px;background:#f7dc9b;"></div>
<div class="b" style="left:421.00px;top:725.00px;width:29.00px;height:14.00px;background:#f7dc9b;"></div>
<div class="b" style="left:451.00px;top:725.00px;width:29.00px;height:14.00px;background:#f7dc9b;"></div>
<div class="b" style="left:481.00px;top:725.00px;width:28.00px;height:14.00px;background:#f7dc9b;"></div>
<div class="b" style="left:510.00px;top:725.00px;width:29.00px;height:14.00px;background:#f7dc9b;"></div>
<div class="b" style="left:540.00px;top:725.00px;width:29.00px;height:14.00px;background:#f7dc9b;"></div>
<div class="b" style="left:570.00px;top:725.00px;width:29.00px;height:14.00px;background:#f7dc9b;"></div>
<div class="b" style="left:600.00px;top:725.00px;width:29.00px;height:14.00px;background:#f7dc9b;"></div>
<div class="b" style="left:630.00px;top:725.00px;width:29.00px;height:14.00px;background:#f7dc9b;"></div>
<div class="b" style="left:668.00px;top:725.00px;width:29.00px;height:14.00px;background:#f7dc9b;"></div>
<div class="b" style="left:698.00px;top:725.00px;width:30.00px;height:14.00px;background:#f7dc9b;"></div>
<div class="b" style="left:18.80px;top:49.70px;width:216.20px;height:39.20px;background:#5088b9;"></div>
<svg style="left:80px;top:730px" width="96" height="38" viewBox="80 730 96 38"><circle cx="127" cy="775.3" r="43.2" fill="#8ab8dc"/></svg>
<svg style="left:940px;top:724px" width="46" height="44" viewBox="940 724 46 44"><circle cx="992" cy="772" r="44" fill="#8ab8dc"/></svg>
<div class="b" style="left:19.50px;top:59.90px;width:32.30px;height:8.90px;background:#fff;"></div>
<div class="b" style="left:52.50px;top:59.90px;width:181.80px;height:8.90px;background:#fff;"></div>
<div class="b" style="left:19.50px;top:79.20px;width:32.30px;height:9.20px;background:#fff;"></div>
<div class="b" style="left:52.50px;top:79.20px;width:181.80px;height:9.20px;background:#fff;"></div>
<div class="b" style="left:54.50px;top:208.30px;width:180.30px;height:8.70px;background:#4a86bf;box-shadow:inset 0 0 0 0.5px #2f5f8c"></div>
<div class="b" style="left:18.70px;top:216.30px;width:35.30px;height:55.95px;background:#1a1a1a;box-shadow:0 0 0 0.4px #999"></div>
<div class="b" style="left:54.50px;top:216.70px;width:180.30px;height:8.05px;background:#b3d0e4;box-shadow:inset 0 0 0 0.45px #2f5f8c"></div>
<div class="b" style="left:54.50px;top:224.75px;width:180.30px;height:8.05px;background:#b3d0e4;box-shadow:inset 0 0 0 0.45px #2f5f8c"></div>
<div class="b" style="left:54.50px;top:232.80px;width:180.30px;height:8.05px;background:#d8e8f1;box-shadow:inset 0 0 0 0.45px #2f5f8c"></div>
<div class="b" style="left:54.50px;top:240.85px;width:180.30px;height:8.05px;background:#d8e8f1;box-shadow:inset 0 0 0 0.45px #2f5f8c"></div>
<div class="b" style="left:54.50px;top:248.90px;width:180.30px;height:8.05px;background:#b3d0e4;box-shadow:inset 0 0 0 0.45px #2f5f8c"></div>
<div class="b" style="left:54.50px;top:256.95px;width:180.30px;height:8.05px;background:#b3d0e4;box-shadow:inset 0 0 0 0.45px #2f5f8c"></div>
<div class="b" style="left:54.50px;top:265.00px;width:180.30px;height:8.05px;background:#b3d0e4;box-shadow:inset 0 0 0 0.45px #2f5f8c"></div>
<div class="b" style="left:18.70px;top:274.10px;width:35.30px;height:55.95px;background:#1a1a1a;box-shadow:0 0 0 0.4px #999"></div>
<div class="b" style="left:54.50px;top:274.50px;width:180.30px;height:8.05px;background:#d8e8f1;box-shadow:inset 0 0 0 0.45px #2f5f8c"></div>
<div class="b" style="left:54.50px;top:282.55px;width:180.30px;height:8.05px;background:#d8e8f1;box-shadow:inset 0 0 0 0.45px #2f5f8c"></div>
<div class="b" style="left:54.50px;top:290.60px;width:180.30px;height:8.05px;background:#b3d0e4;box-shadow:inset 0 0 0 0.45px #2f5f8c"></div>
<div class="b" style="left:54.50px;top:298.65px;width:180.30px;height:8.05px;background:#b3d0e4;box-shadow:inset 0 0 0 0.45px #2f5f8c"></div>
<div class="b" style="left:54.50px;top:306.70px;width:180.30px;height:8.05px;background:#d8e8f1;box-shadow:inset 0 0 0 0.45px #2f5f8c"></div>
<div class="b" style="left:54.50px;top:314.75px;width:180.30px;height:8.05px;background:#d8e8f1;box-shadow:inset 0 0 0 0.45px #2f5f8c"></div>
<div class="b" style="left:54.50px;top:322.80px;width:180.30px;height:8.05px;background:#d8e8f1;box-shadow:inset 0 0 0 0.45px #2f5f8c"></div>
<div class="b" style="left:18.60px;top:331.20px;width:35.40px;height:7.30px;background:#1a1a1a;"></div>
<div class="b" style="left:54.50px;top:330.60px;width:180.30px;height:8.00px;background:#a3bd74;box-shadow:inset 0 0 0 0.45px #3d5a2a"></div>
<div class="b" style="left:18.60px;top:339.80px;width:35.40px;height:14.40px;background:#1a1a1a;"></div>
<div class="b" style="left:54.50px;top:338.60px;width:180.30px;height:15.60px;background:#a3bd74;box-shadow:inset 0 0 0 0.45px #3d5a2a"></div>
<div class="b" style="left:752.30px;top:236.60px;width:221.60px;height:116.70px;background:#8ab7d9;border:3.4px solid #e8b335;border-radius:11.5px;box-sizing:border-box"></div>
<div class="b" style="left:37.20px;top:586.80px;width:179.80px;height:43.10px;background:#d6e6f1;"></div>
<div class="b" style="left:37.20px;top:635.20px;width:179.80px;height:77.00px;background:#fff;border:0.7px solid #5a94c8;border-radius:6.5px;box-sizing:border-box"></div>
<svg style="left:741px;top:580px" width="245" height="80" viewBox="741 580 245 80"><defs><linearGradient id="gl" gradientUnits="userSpaceOnUse" x1="741" x2="832" y1="0" y2="0"><stop offset="0" stop-color="#a6c7e1"/><stop offset="0.5" stop-color="#c6dbeb"/><stop offset="0.97" stop-color="#fff"/></linearGradient><linearGradient id="gr" gradientUnits="userSpaceOnUse" x1="985.6" x2="894.6" y1="0" y2="0"><stop offset="0" stop-color="#a6c7e1"/><stop offset="0.5" stop-color="#c6dbeb"/><stop offset="0.97" stop-color="#fff"/></linearGradient></defs><path d="M741 588.7Q790 590.0 832 610.7L832 611.3Q790 595.9 741 594.9Z" fill="url(#gl)"/><path d="M985.6 588.7Q936.6 590.0 894.6 610.7L894.6 611.3Q936.6 595.9 985.6 594.9Z" fill="url(#gr)"/><path d="M741 601.2Q790 602.0 832 614.2L832 614.8Q790 608.5 741 608.1Z" fill="url(#gl)"/><path d="M985.6 601.2Q936.6 602.0 894.6 614.2L894.6 614.8Q936.6 608.5 985.6 608.1Z" fill="url(#gr)"/><path d="M741 614.8Q790 615.0 832 617.8L832 618.4Q790 621.5 741 621.7Z" fill="url(#gl)"/><path d="M985.6 614.8Q936.6 615.0 894.6 617.8L894.6 618.4Q936.6 621.5 985.6 621.7Z" fill="url(#gr)"/><path d="M741 628.2Q790 627.8 832 621.4L832 622.0Q790 634.3 741 635.1Z" fill="url(#gl)"/><path d="M985.6 628.2Q936.6 627.8 894.6 621.4L894.6 622.0Q936.6 634.3 985.6 635.1Z" fill="url(#gr)"/><path d="M741 642.0Q790 641.0 832 625.1L832 625.7Q790 647.5 741 648.9Z" fill="url(#gl)"/><path d="M985.6 642.0Q936.6 641.0 894.6 625.1L894.6 625.7Q936.6 647.5 985.6 648.9Z" fill="url(#gr)"/></svg>
<div class="b" style="left:18.90px;top:112.20px;width:35.20px;height:11.30px;background:#4a86bf;clip-path:polygon(0 0,100% 0,100% 30%,96% 50%,100% 70%,100% 100%,0 100%)"></div>
<div class="b" style="left:192.15px;top:208.30px;width:0.70px;height:8.70px;background:#2f5f8c;"></div>
<div class="b" style="left:192.15px;top:224.75px;width:0.70px;height:8.05px;background:#2f5f8c;"></div>
<div class="b" style="left:192.15px;top:240.85px;width:0.70px;height:8.05px;background:#2f5f8c;"></div>
<div class="b" style="left:192.15px;top:256.95px;width:0.70px;height:8.05px;background:#2f5f8c;"></div>
<div class="b" style="left:192.15px;top:265.00px;width:0.70px;height:8.05px;background:#2f5f8c;"></div>
<div class="b" style="left:192.15px;top:282.55px;width:0.70px;height:8.05px;background:#2f5f8c;"></div>
<div class="b" style="left:192.15px;top:298.65px;width:0.70px;height:8.05px;background:#2f5f8c;"></div>
<div class="b" style="left:192.15px;top:314.75px;width:0.70px;height:8.05px;background:#2f5f8c;"></div>
<div class="b" style="left:192.15px;top:322.80px;width:0.70px;height:8.05px;background:#2f5f8c;"></div>
<div class="b" style="left:192.15px;top:330.60px;width:0.70px;height:8.00px;background:#3d5a2a;"></div>
<div class="b" style="left:779.40px;top:249.50px;width:17.40px;height:11.90px;background:#f0b62e;"></div>
<svg style="left:70px;top:658px" width="114" height="22" viewBox="70 658 114 22"><rect x="79" y="660.9" width="81" height="15.4" rx="2" fill="#f0b93e"/><rect x="146" y="666" width="35" height="10.3" rx="1.8" fill="#f0b93e"/><g transform="rotate(-13 76.8 669.2)"><rect x="72.4" y="661.6" width="8.8" height="15.2" rx="2" fill="#fff" stroke="#f0b93e" stroke-width="1.5"/><rect x="75.6" y="674.2" width="2.4" height="0.9" rx="0.4" fill="#f0b93e"/></g></svg>
<svg style="left:741px;top:694px" width="245" height="20" viewBox="741 694 245 20"><path d="M752 704.2H960" stroke="#86b8da" stroke-width="1.5"/><circle cx="752.3" cy="704.2" r="4.75" fill="#fff" stroke="#86b8da" stroke-width="1.5"/><circle cx="768" cy="704.2" r="3.15" fill="#fff" stroke="#86b8da" stroke-width="1.5"/><circle cx="783.8" cy="704.2" r="3.15" fill="#fff" stroke="#86b8da" stroke-width="1.5"/><circle cx="799.3" cy="704.2" r="3.15" fill="#fff" stroke="#86b8da" stroke-width="1.5"/><circle cx="814.5" cy="704.2" r="3.15" fill="#fff" stroke="#86b8da" stroke-width="1.5"/><circle cx="830.3" cy="704.2" r="3.15" fill="#fff" stroke="#86b8da" stroke-width="1.5"/><circle cx="847.8" cy="704.2" r="3.15" fill="#fff" stroke="#86b8da" stroke-width="1.5"/><circle cx="863" cy="704.2" r="3.15" fill="#fff" stroke="#86b8da" stroke-width="1.5"/><circle cx="878.8" cy="704.2" r="3.15" fill="#fff" stroke="#86b8da" stroke-width="1.5"/><circle cx="894.8" cy="704.2" r="3.15" fill="#fff" stroke="#86b8da" stroke-width="1.5"/><circle cx="912" cy="704.2" r="3.15" fill="#fff" stroke="#86b8da" stroke-width="1.5"/><circle cx="927.8" cy="704.2" r="3.15" fill="#fff" stroke="#86b8da" stroke-width="1.5"/><circle cx="943.5" cy="704.2" r="3.15" fill="#fff" stroke="#86b8da" stroke-width="1.5"/><circle cx="959.8" cy="704.2" r="4.75" fill="#fff" stroke="#86b8da" stroke-width="1.5"/></svg>
<div class="b" style="left:260.70px;top:8.00px;width:30.80px;height:28.60px;background:#2a659f;border-radius:4.2px"></div>
<div class="b" style="left:260.70px;top:397.20px;width:30.50px;height:28.50px;background:#2a659f;border-radius:4.2px"></div>
<div class="b" style="left:50.60px;top:113.00px;width:0.00px;height:9.60px;background:transparent;border-left:0.6px dotted #dfeaf4"></div>
<svg style="left:18px;top:714px" width="38" height="45" viewBox="18 714 38 45"><rect x="19.75" y="715.55" width="34.4" height="41.5" rx="2.2" fill="#fff" stroke="#22262e" stroke-width="1.3"/><path fill-rule="evenodd" fill="#111" d="M27.2 730.3a10.2 10.2 0 1 0 20.4 0a10.2 10.2 0 1 0 -20.4 0ZM28.6 729.3a8.2 8.2 0 1 1 16.4 0a8.2 8.2 0 1 1 -16.4 0Z"/><path d="M44.6 725.6L48.8 727.4" stroke="#fff" stroke-width="0.9"/><circle cx="31.6" cy="729.4" r="3.0" fill="#111"/><rect x="30.9" y="731" width="1.4" height="4.6" fill="#111"/><path d="M37.7 725.6L40.2 729.6H39.3L41.3 733.3H34.1L36.1 729.6H35.2Z" fill="#111"/><rect x="37" y="733" width="1.4" height="2.6" fill="#111"/><text x="36.7" y="746.9" font-family="Liberation Sans,sans-serif" font-weight="700" font-size="6.1" text-anchor="middle" textLength="21.1" lengthAdjust="spacingAndGlyphs" fill="#111">PEFC</text><text x="37" y="751.7" font-family="Liberation Sans,sans-serif" font-size="2.3" text-anchor="middle" fill="#555">10-31-1238</text></svg>
<svg style="left:111.2px;top:716.2px" width="30.8" height="30.6" viewBox="0 0 32 31"><rect width="32" height="31" fill="#151515"/><path d="M7.2 7.2C8.6 8.4 10.2 9 11.6 9.3C13.8 10.2 15.8 10.5 17.7 10.5C19.8 10.5 21.8 10.3 23.4 9.8C24.8 9.4 26 8.9 27 8.2L25.7 12.1L30.1 13.9L26 16.2L27 20.8C25 20.2 23 19.4 21.3 18.3C19 17.2 17 15.8 15.2 14.1C13.2 12.6 11.6 11 10 9.5C9 8.6 8.2 7.8 7.2 7.2Z" fill="#fff"/><path d="M6.7 6.4C4.4 5.6 2.9 4 2.3 2.1C4.6 2.6 6.2 4.2 6.7 6.4Z" fill="#fff"/><path d="M6.7 6.4C7.3 4.2 8.9 2.7 11.1 2.1C10.5 4.3 9 5.8 6.7 6.4Z" fill="#fff"/><path d="M6.7 6.6C4.4 6.9 2.9 8.3 2.3 10.3C4.6 9.9 6.2 8.6 6.7 6.6Z" fill="#fff"/><text x="2.2" y="22.9" font-family="Liberation Sans,sans-serif" font-size="3.6" fill="#e8e8e8" textLength="16.3" lengthAdjust="spacing">Région</text><text x="0.3" y="30.1" font-family="Liberation Sans,sans-serif" font-weight="700" font-size="5.8" fill="#fff" textLength="31.4" lengthAdjust="spacingAndGlyphs">BRETAGNE</text></svg>
<div class="b" style="left:838.50px;top:416.50px;width:49.30px;height:42.00px;background:#2a659f;border-radius:5.5px"></div>
<svg style="left:838.5px;top:595.6px" width="49" height="49" viewBox="-24.5 -24.5 49 49"><circle r="24.45" fill="#5088b9"/><path d="M-10.7 -8.4Q-10.7 -16.4 -2.7 -16.4H2.7Q10.7 -16.4 10.7 -8.4V11.7H-10.7Z" fill="#fff"/><rect x="-9.4" y="-10" width="18.8" height="14.2" rx="2.6" fill="#5088b9"/><circle cx="-7.3" cy="8.3" r="1.35" fill="#5088b9"/><circle cx="7.3" cy="8.3" r="1.35" fill="#5088b9"/><rect x="-10.2" y="11" width="3.3" height="4.1" rx="0.6" fill="#fff"/><rect x="6.9" y="11" width="3.3" height="4.1" rx="0.6" fill="#fff"/><rect x="-12.2" y="-8.2" width="2" height="5.2" rx="0.8" fill="#fff"/><rect x="10.2" y="-8.2" width="2" height="5.2" rx="0.8" fill="#fff"/></svg>
<svg style="left:751.6px;top:738.6px" width="14" height="13" viewBox="0 0 14 13"><path d="M12.2 5.2A5.6 5.6 0 1 1 8.6 0.9" fill="none" stroke="#e4233a" stroke-width="0.9"/><circle cx="10" cy="1.8" r="1.1" fill="#e4233a"/><path d="M3.6 4.6L10.6 3.6L7.4 6.2L6.6 10.6L5.6 7.2L3.2 8.8L4.9 6Z" fill="#e4233a"/></svg>
<svg style="left:945.5px;top:726.8px" width="28.5" height="28.7" viewBox="0 0 32 31"><rect width="32" height="31" fill="#151515"/><path d="M7.2 7.2C8.6 8.4 10.2 9 11.6 9.3C13.8 10.2 15.8 10.5 17.7 10.5C19.8 10.5 21.8 10.3 23.4 9.8C24.8 9.4 26 8.9 27 8.2L25.7 12.1L30.1 13.9L26 16.2L27 20.8C25 20.2 23 19.4 21.3 18.3C19 17.2 17 15.8 15.2 14.1C13.2 12.6 11.6 11 10 9.5C9 8.6 8.2 7.8 7.2 7.2Z" fill="#fff"/><path d="M6.7 6.4C4.4 5.6 2.9 4 2.3 2.1C4.6 2.6 6.2 4.2 6.7 6.4Z" fill="#fff"/><path d="M6.7 6.4C7.3 4.2 8.9 2.7 11.1 2.1C10.5 4.3 9 5.8 6.7 6.4Z" fill="#fff"/><path d="M6.7 6.6C4.4 6.9 2.9 8.3 2.3 10.3C4.6 9.9 6.2 8.6 6.7 6.6Z" fill="#fff"/><text x="2.2" y="22.9" font-family="Liberation Sans,sans-serif" font-size="3.6" fill="#e8e8e8" textLength="16.3" lengthAdjust="spacing">Région</text><text x="0.3" y="30.1" font-family="Liberation Sans,sans-serif" font-weight="700" font-size="5.8" fill="#fff" textLength="31.4" lengthAdjust="spacingAndGlyphs">BRETAGNE</text></svg>
<svg style="left:188.3px;top:151.1px" width="45" height="45" viewBox="-22.5 -22.5 45 45"><circle r="21.4" fill="#fff" stroke="#5a94c8" stroke-width="0.9"/><circle cx="1.5" cy="-16.6" r="1.9" fill="#f0bd4a"/><circle cx="-1.7" cy="-13.4" r="1.9" fill="#f0bd4a"/><circle cx="3" cy="-12.6" r="1.6" fill="#f0bd4a"/><path d="M-5.3 -10.6L-3.6 -10.9C-2.4 -9 -0.5 -8.4 1.5 -8.6L5 -9.3V-5.2C1 -4 -3.3 -5 -5.3 -10.6Z" fill="#7aaedb"/><rect x="5.6" y="-9.8" width="2.9" height="5.4" rx="0.4" fill="#7aaedb"/><g transform="rotate(12)" font-family="Liberation Sans,sans-serif" font-weight="700" font-style="italic" font-size="5.4" fill="#1d1d1b" stroke="#1d1d1b" stroke-width="0.2" text-anchor="middle"><text x="0" y="1.95" textLength="17" lengthAdjust="spacingAndGlyphs">MERCI</text><text x="0" y="8.1" textLength="23.6" lengthAdjust="spacingAndGlyphs">DE FAIRE</text><text x="0.4" y="13.6" textLength="26.6" lengthAdjust="spacingAndGlyphs">L’APPOINT</text></g></svg>
<div class="b" style="left:768.50px;top:518.30px;width:187.50px;height:58.90px;background:#5088b9;border-radius:0 0 6px 6px"></div>
<svg style="left:917px;top:741px" width="12" height="7" viewBox="917 741 12 7"><path d="M925.4 741.4V743.2Q925.4 746 922.4 746Q920.6 746 919.4 745" fill="none" stroke="#5a94c8" stroke-width="2.1"/></svg>
<div class="b" style="left:840.30px;top:747.20px;width:73.70px;height:0.60px;background:#151515;"></div>
<div class="b" style="left:928.00px;top:747.20px;width:10.50px;height:0.60px;background:#151515;"></div>
<span class="t" style="left:20.70px;top:113.20px;font-size:9.6px;font-weight:700;color:#111;transform:scaleX(0.7174);-webkit-text-stroke:0.24px;"><span style="color:#fff">M</span>-Ticket</span>
<span class="t" style="left:839.20px;top:725.30px;font-size:20.4px;font-weight:700;color:#151515;transform:scaleX(0.9723);">BREIZH</span>
<span class="t" style="left:913.20px;top:725.30px;font-size:20.4px;font-weight:700;color:#5a94c8;transform:scaleX(0.8382);-webkit-text-stroke:0.24px;">GO</span>
<span class="t" style="left:840.30px;top:752.30px;font-size:4.6px;font-weight:700;color:#222;font-style:italic;transform:scaleX(0.9887);">Le réseau de transport public 100 % Bretagne</span>
<span class="t" style="left:262.90px;top:50.50px;font-size:7.0px;color:#fff;transform:scaleX(0.7200);-webkit-text-stroke:0.18px;">Jours de circulation</span>
<span class="t" style="left:427.79px;top:50.50px;font-size:7.0px;font-weight:700;color:#fff;transform:scaleX(0.6900);-webkit-text-stroke:0.08px;">L</span>
<span class="t" style="left:454.81px;top:50.50px;font-size:7.0px;font-weight:700;color:#fff;transform:scaleX(0.6900);-webkit-text-stroke:0.08px;">LMJ</span>
<span class="t" style="left:485.04px;top:50.50px;font-size:7.0px;font-weight:700;color:#fff;transform:scaleX(0.6900);-webkit-text-stroke:0.08px;">MeV</span>
<span class="t" style="left:518.78px;top:50.50px;font-size:7.0px;font-weight:700;color:#fff;transform:scaleX(0.6900);-webkit-text-stroke:0.08px;">V</span>
<span class="t" style="left:547.40px;top:50.50px;font-size:7.0px;font-weight:700;color:#fff;transform:scaleX(0.6900);-webkit-text-stroke:0.08px;">Me</span>
<span class="t" style="left:571.34px;top:50.50px;font-size:7.0px;font-weight:700;color:#fff;transform:scaleX(0.6900);-webkit-text-stroke:0.08px;">LMMeJV</span>
<span class="t" style="left:601.71px;top:50.50px;font-size:7.0px;font-weight:700;color:#fff;transform:scaleX(0.6900);-webkit-text-stroke:0.08px;">LMMeJV</span>
<span class="t" style="left:640.28px;top:50.50px;font-size:7.0px;font-weight:700;color:#fff;transform:scaleX(0.6900);-webkit-text-stroke:0.08px;">V</span>
<span class="t" style="left:680.24px;top:50.50px;font-size:7.0px;font-weight:700;color:#fff;transform:scaleX(0.6900);-webkit-text-stroke:0.08px;">S</span>
<span class="t" style="left:710.79px;top:50.50px;font-size:7.0px;font-weight:700;color:#fff;transform:scaleX(0.6900);-webkit-text-stroke:0.08px;">S</span>
<span class="t" style="left:262.90px;top:64.62px;font-size:7.0px;transform:scaleX(0.7200);-webkit-text-stroke:0.18px;">Période scolaire</span>
<span class="t" style="left:425.34px;top:64.62px;font-size:7.0px;transform:scaleX(0.7200);-webkit-text-stroke:0.18px;">Oui</span>
<span class="t" style="left:455.71px;top:64.62px;font-size:7.0px;transform:scaleX(0.7200);-webkit-text-stroke:0.18px;">Oui</span>
<span class="t" style="left:485.39px;top:64.62px;font-size:7.0px;transform:scaleX(0.7200);-webkit-text-stroke:0.18px;">Non</span>
<span class="t" style="left:516.46px;top:64.62px;font-size:7.0px;transform:scaleX(0.7200);-webkit-text-stroke:0.18px;">Oui</span>
<span class="t" style="left:546.84px;top:64.62px;font-size:7.0px;transform:scaleX(0.7200);-webkit-text-stroke:0.18px;">Oui</span>
<span class="t" style="left:576.51px;top:64.62px;font-size:7.0px;transform:scaleX(0.7200);-webkit-text-stroke:0.18px;">Non</span>
<span class="t" style="left:607.59px;top:64.62px;font-size:7.0px;transform:scaleX(0.7200);-webkit-text-stroke:0.18px;">Oui</span>
<span class="t" style="left:637.96px;top:64.62px;font-size:7.0px;transform:scaleX(0.7200);-webkit-text-stroke:0.18px;">Oui</span>
<span class="t" style="left:677.92px;top:64.62px;font-size:7.0px;transform:scaleX(0.7200);-webkit-text-stroke:0.18px;">Oui</span>
<span class="t" style="left:708.47px;top:64.62px;font-size:7.0px;transform:scaleX(0.7200);-webkit-text-stroke:0.18px;">Oui</span>
<span class="t" style="left:262.90px;top:78.75px;font-size:7.0px;transform:scaleX(0.7200);-webkit-text-stroke:0.18px;">Période de vacances scolaires</span>
<span class="t" style="left:424.64px;top:78.75px;font-size:7.0px;transform:scaleX(0.7200);-webkit-text-stroke:0.18px;">Non</span>
<span class="t" style="left:455.71px;top:78.75px;font-size:7.0px;transform:scaleX(0.7200);-webkit-text-stroke:0.18px;">Oui</span>
<span class="t" style="left:486.09px;top:78.75px;font-size:7.0px;transform:scaleX(0.7200);-webkit-text-stroke:0.18px;">Oui</span>
<span class="t" style="left:515.76px;top:78.75px;font-size:7.0px;transform:scaleX(0.7200);-webkit-text-stroke:0.18px;">Non</span>
<span class="t" style="left:546.14px;top:78.75px;font-size:7.0px;transform:scaleX(0.7200);-webkit-text-stroke:0.18px;">Non</span>
<span class="t" style="left:577.21px;top:78.75px;font-size:7.0px;transform:scaleX(0.7200);-webkit-text-stroke:0.18px;">Oui</span>
<span class="t" style="left:606.89px;top:78.75px;font-size:7.0px;transform:scaleX(0.7200);-webkit-text-stroke:0.18px;">Non</span>
<span class="t" style="left:637.26px;top:78.75px;font-size:7.0px;transform:scaleX(0.7200);-webkit-text-stroke:0.18px;">Non</span>
<span class="t" style="left:677.92px;top:78.75px;font-size:7.0px;transform:scaleX(0.7200);-webkit-text-stroke:0.18px;">Oui</span>
<span class="t" style="left:708.47px;top:78.75px;font-size:7.0px;transform:scaleX(0.7200);-webkit-text-stroke:0.18px;">Oui</span>
<span class="t" style="left:262.90px;top:92.88px;font-size:7.0px;transform:scaleX(0.7200);-webkit-text-stroke:0.18px;">Affichage sur autocar</span>
<span class="t" style="left:423.65px;top:92.88px;font-size:7.0px;transform:scaleX(0.7200);-webkit-text-stroke:0.18px;">6001</span>
<span class="t" style="left:514.78px;top:92.88px;font-size:7.0px;transform:scaleX(0.7200);-webkit-text-stroke:0.18px;">6000</span>
<span class="t" style="left:545.15px;top:92.88px;font-size:7.0px;transform:scaleX(0.7200);-webkit-text-stroke:0.18px;">6002</span>
<span class="t" style="left:605.90px;top:92.88px;font-size:7.0px;transform:scaleX(0.7200);-webkit-text-stroke:0.18px;">6002</span>
<span class="t" style="left:636.28px;top:92.88px;font-size:7.0px;transform:scaleX(0.7200);-webkit-text-stroke:0.18px;">6000</span>
<span class="t" style="left:262.90px;top:107.00px;font-size:7.0px;transform:scaleX(0.7200);-webkit-text-stroke:0.18px;">Renvois à consulter</span>
<span class="t" style="left:427.52px;top:107.00px;font-size:7.0px;font-weight:700;transform:scaleX(0.6900);-webkit-text-stroke:0.24px;">A</span>
<span class="t" style="left:262.90px;top:121.12px;font-size:7.0px;font-weight:700;transform:scaleX(0.6900);-webkit-text-stroke:0.24px;">MORLAIX</span>
<span class="t" style="left:341.50px;top:121.12px;font-size:7.0px;transform:scaleX(0.7200);-webkit-text-stroke:0.18px;">Viaduc</span>
<span class="t" style="left:422.95px;top:121.12px;font-size:7.0px;transform:scaleX(0.7200);-webkit-text-stroke:0.18px;">05:55</span>
<span class="t" style="left:453.52px;top:121.12px;font-size:7.0px;transform:scaleX(0.7200);-webkit-text-stroke:0.18px;">11:50</span>
<span class="t" style="left:483.89px;top:121.12px;font-size:7.0px;transform:scaleX(0.7200);-webkit-text-stroke:0.18px;">11:50</span>
<span class="t" style="left:514.27px;top:121.12px;font-size:7.0px;transform:scaleX(0.7200);-webkit-text-stroke:0.18px;">11:50</span>
<span class="t" style="left:549.80px;top:120.22px;font-size:7.4px;color:#111;-webkit-text-stroke:0.12px #111;">|</span>
<span class="t" style="left:574.83px;top:121.12px;font-size:7.0px;transform:scaleX(0.7200);-webkit-text-stroke:0.18px;">17:35</span>
<span class="t" style="left:605.20px;top:121.12px;font-size:7.0px;transform:scaleX(0.7200);-webkit-text-stroke:0.18px;">17:40</span>
<span class="t" style="left:635.58px;top:121.12px;font-size:7.0px;transform:scaleX(0.7200);-webkit-text-stroke:0.18px;">17:40</span>
<span class="t" style="left:675.73px;top:121.12px;font-size:7.0px;transform:scaleX(0.7200);-webkit-text-stroke:0.18px;">11:50</span>
<span class="t" style="left:706.09px;top:121.12px;font-size:7.0px;transform:scaleX(0.7200);-webkit-text-stroke:0.18px;">17:35</span>
<span class="t" style="left:341.50px;top:135.25px;font-size:7.0px;transform:scaleX(0.7200);-webkit-text-stroke:0.18px;">Gare SNCF</span>
<span class="t" style="left:428.30px;top:134.35px;font-size:7.4px;color:#111;-webkit-text-stroke:0.12px #111;">|</span>
<span class="t" style="left:453.52px;top:135.25px;font-size:7.0px;transform:scaleX(0.7200);-webkit-text-stroke:0.18px;">11:55</span>
<span class="t" style="left:483.89px;top:135.25px;font-size:7.0px;transform:scaleX(0.7200);-webkit-text-stroke:0.18px;">11:55</span>
<span class="t" style="left:514.27px;top:135.25px;font-size:7.0px;transform:scaleX(0.7200);-webkit-text-stroke:0.18px;">11:55</span>
<span class="t" style="left:549.80px;top:134.35px;font-size:7.4px;color:#111;-webkit-text-stroke:0.12px #111;">|</span>
<span class="t" style="left:574.83px;top:135.25px;font-size:7.0px;transform:scaleX(0.7200);-webkit-text-stroke:0.18px;">17:40</span>
<span class="t" style="left:605.20px;top:135.25px;font-size:7.0px;transform:scaleX(0.7200);-webkit-text-stroke:0.18px;">17:35</span>
<span class="t" style="left:635.58px;top:135.25px;font-size:7.0px;transform:scaleX(0.7200);-webkit-text-stroke:0.18px;">17:35</span>
<span class="t" style="left:675.73px;top:135.25px;font-size:7.0px;transform:scaleX(0.7200);-webkit-text-stroke:0.18px;">11:55</span>
<span class="t" style="left:706.09px;top:135.25px;font-size:7.0px;transform:scaleX(0.7200);-webkit-text-stroke:0.18px;">17:40</span>
<span class="t" style="left:341.50px;top:149.38px;font-size:7.0px;transform:scaleX(0.7200);-webkit-text-stroke:0.18px;">Lycée Tristan Corbière</span>
<span class="t" style="left:428.30px;top:148.47px;font-size:7.4px;color:#111;-webkit-text-stroke:0.12px #111;">|</span>
<span class="t" style="left:458.68px;top:148.47px;font-size:7.4px;color:#111;-webkit-text-stroke:0.12px #111;">|</span>
<span class="t" style="left:489.05px;top:148.47px;font-size:7.4px;color:#111;-webkit-text-stroke:0.12px #111;">|</span>
<span class="t" style="left:514.08px;top:149.38px;font-size:7.0px;transform:scaleX(0.7200);-webkit-text-stroke:0.18px;">12:05</span>
<span class="t" style="left:544.45px;top:149.38px;font-size:7.0px;transform:scaleX(0.7200);-webkit-text-stroke:0.18px;">12:15</span>
<span class="t" style="left:580.18px;top:148.47px;font-size:7.4px;color:#111;-webkit-text-stroke:0.12px #111;">|</span>
<span class="t" style="left:605.20px;top:149.38px;font-size:7.0px;transform:scaleX(0.7200);-webkit-text-stroke:0.18px;">17:50</span>
<span class="t" style="left:635.58px;top:149.38px;font-size:7.0px;transform:scaleX(0.7200);-webkit-text-stroke:0.18px;">17:50</span>
<span class="t" style="left:680.89px;top:148.47px;font-size:7.4px;color:#111;-webkit-text-stroke:0.12px #111;">|</span>
<span class="t" style="left:711.44px;top:148.47px;font-size:7.4px;color:#111;-webkit-text-stroke:0.12px #111;">|</span>
<span class="t" style="left:262.90px;top:163.50px;font-size:7.0px;font-weight:700;transform:scaleX(0.6900);-webkit-text-stroke:0.24px;">PLEYBER-CHRIST</span>
<span class="t" style="left:341.50px;top:163.50px;font-size:7.0px;transform:scaleX(0.7200);-webkit-text-stroke:0.18px;">Bourg</span>
<span class="t" style="left:422.95px;top:163.50px;font-size:7.0px;transform:scaleX(0.7200);-webkit-text-stroke:0.18px;">06:05</span>
<span class="t" style="left:458.68px;top:162.60px;font-size:7.4px;color:#111;-webkit-text-stroke:0.12px #111;">|</span>
<span class="t" style="left:489.05px;top:162.60px;font-size:7.4px;color:#111;-webkit-text-stroke:0.12px #111;">|</span>
<span class="t" style="left:514.08px;top:163.50px;font-size:7.0px;transform:scaleX(0.7200);-webkit-text-stroke:0.18px;">12:20</span>
<span class="t" style="left:549.80px;top:162.60px;font-size:7.4px;color:#111;-webkit-text-stroke:0.12px #111;">|</span>
<span class="t" style="left:574.83px;top:163.50px;font-size:7.0px;transform:scaleX(0.7200);-webkit-text-stroke:0.18px;">17:55</span>
<span class="t" style="left:600.80px;top:163.50px;font-size:7.0px;transform:scaleX(0.7200);-webkit-text-stroke:0.18px;">18:05</span>
<span class="t" style="left:640.93px;top:162.60px;font-size:7.4px;color:#111;-webkit-text-stroke:0.12px #111;">|</span>
<span class="t" style="left:680.89px;top:162.60px;font-size:7.4px;color:#111;-webkit-text-stroke:0.12px #111;">|</span>
<span class="t" style="left:706.09px;top:163.50px;font-size:7.0px;transform:scaleX(0.7200);-webkit-text-stroke:0.18px;">17:55</span>
<span class="t" style="left:262.90px;top:177.62px;font-size:7.0px;font-weight:700;transform:scaleX(0.6900);-webkit-text-stroke:0.24px;">PLOUNÉOUR-MÉNEZ</span>
<span class="t" style="left:341.50px;top:177.62px;font-size:7.0px;transform:scaleX(0.7200);-webkit-text-stroke:0.18px;">Bourg</span>
<span class="t" style="left:422.95px;top:177.62px;font-size:7.0px;transform:scaleX(0.7200);-webkit-text-stroke:0.18px;">06:15</span>
<span class="t" style="left:458.68px;top:176.72px;font-size:7.4px;color:#111;-webkit-text-stroke:0.12px #111;">|</span>
<span class="t" style="left:489.05px;top:176.72px;font-size:7.4px;color:#111;-webkit-text-stroke:0.12px #111;">|</span>
<span class="t" style="left:514.08px;top:177.62px;font-size:7.0px;transform:scaleX(0.7200);-webkit-text-stroke:0.18px;">12:30</span>
<span class="t" style="left:549.80px;top:176.72px;font-size:7.4px;color:#111;-webkit-text-stroke:0.12px #111;">|</span>
<span class="t" style="left:574.83px;top:177.62px;font-size:7.0px;transform:scaleX(0.7200);-webkit-text-stroke:0.18px;">18:05</span>
<span class="t" style="left:600.80px;top:177.62px;font-size:7.0px;transform:scaleX(0.7200);-webkit-text-stroke:0.18px;">18:15</span>
<span class="t" style="left:640.93px;top:176.72px;font-size:7.4px;color:#111;-webkit-text-stroke:0.12px #111;">|</span>
<span class="t" style="left:680.89px;top:176.72px;font-size:7.4px;color:#111;-webkit-text-stroke:0.12px #111;">|</span>
<span class="t" style="left:706.09px;top:177.62px;font-size:7.0px;transform:scaleX(0.7200);-webkit-text-stroke:0.18px;">18:05</span>
<span class="t" style="left:262.90px;top:191.75px;font-size:7.0px;font-weight:700;transform:scaleX(0.6900);-webkit-text-stroke:0.24px;">LA FEUILLÉE</span>
<span class="t" style="left:341.50px;top:191.75px;font-size:7.0px;transform:scaleX(0.7200);-webkit-text-stroke:0.18px;">Bourg</span>
<span class="t" style="left:422.95px;top:191.75px;font-size:7.0px;transform:scaleX(0.7200);-webkit-text-stroke:0.18px;">06:25</span>
<span class="t" style="left:453.33px;top:191.75px;font-size:7.0px;transform:scaleX(0.7200);-webkit-text-stroke:0.18px;">12:25</span>
<span class="t" style="left:483.70px;top:191.75px;font-size:7.0px;transform:scaleX(0.7200);-webkit-text-stroke:0.18px;">12:25</span>
<span class="t" style="left:514.08px;top:191.75px;font-size:7.0px;transform:scaleX(0.7200);-webkit-text-stroke:0.18px;">12:40</span>
<span class="t" style="left:544.45px;top:191.75px;font-size:7.0px;transform:scaleX(0.7200);-webkit-text-stroke:0.18px;">12:50</span>
<span class="t" style="left:574.83px;top:191.75px;font-size:7.0px;transform:scaleX(0.7200);-webkit-text-stroke:0.18px;">18:15</span>
<span class="t" style="left:605.20px;top:191.75px;font-size:7.0px;transform:scaleX(0.7200);-webkit-text-stroke:0.18px;">18:25</span>
<span class="t" style="left:640.93px;top:190.85px;font-size:7.4px;color:#111;-webkit-text-stroke:0.12px #111;">|</span>
<span class="t" style="left:675.54px;top:191.75px;font-size:7.0px;transform:scaleX(0.7200);-webkit-text-stroke:0.18px;">12:25</span>
<span class="t" style="left:706.09px;top:191.75px;font-size:7.0px;transform:scaleX(0.7200);-webkit-text-stroke:0.18px;">18:15</span>
<span class="t" style="left:262.90px;top:205.88px;font-size:7.0px;font-weight:700;transform:scaleX(0.6900);-webkit-text-stroke:0.24px;">BRENNILIS</span>
<span class="t" style="left:341.50px;top:205.88px;font-size:7.0px;transform:scaleX(0.7200);-webkit-text-stroke:0.18px;">Bourg</span>
<span class="t" style="left:422.95px;top:205.88px;font-size:7.0px;transform:scaleX(0.7200);-webkit-text-stroke:0.18px;">06:30</span>
<span class="t" style="left:453.33px;top:205.88px;font-size:7.0px;transform:scaleX(0.7200);-webkit-text-stroke:0.18px;">12:31</span>
<span class="t" style="left:483.70px;top:205.88px;font-size:7.0px;transform:scaleX(0.7200);-webkit-text-stroke:0.18px;">12:31</span>
<span class="t" style="left:514.08px;top:205.88px;font-size:7.0px;transform:scaleX(0.7200);-webkit-text-stroke:0.18px;">12:46</span>
<span class="t" style="left:544.45px;top:205.88px;font-size:7.0px;transform:scaleX(0.7200);-webkit-text-stroke:0.18px;">12:56</span>
<span class="t" style="left:574.83px;top:205.88px;font-size:7.0px;transform:scaleX(0.7200);-webkit-text-stroke:0.18px;">18:21</span>
<span class="t" style="left:605.20px;top:205.88px;font-size:7.0px;transform:scaleX(0.7200);-webkit-text-stroke:0.18px;">18:31</span>
<span class="t" style="left:640.93px;top:204.97px;font-size:7.4px;color:#111;-webkit-text-stroke:0.12px #111;">|</span>
<span class="t" style="left:675.54px;top:205.88px;font-size:7.0px;transform:scaleX(0.7200);-webkit-text-stroke:0.18px;">12:31</span>
<span class="t" style="left:706.09px;top:205.88px;font-size:7.0px;transform:scaleX(0.7200);-webkit-text-stroke:0.18px;">18:21</span>
<span class="t" style="left:262.90px;top:220.00px;font-size:7.0px;font-weight:700;transform:scaleX(0.6900);-webkit-text-stroke:0.24px;">HUELGOAT</span>
<span class="t" style="left:341.50px;top:220.00px;font-size:7.0px;transform:scaleX(0.7200);-webkit-text-stroke:0.18px;">Bourg</span>
<span class="t" style="left:428.30px;top:219.10px;font-size:7.4px;color:#111;-webkit-text-stroke:0.12px #111;">|</span>
<span class="t" style="left:449.12px;top:220.00px;font-size:7.0px;transform:scaleX(0.7200);-webkit-text-stroke:0.18px;">12:44 (<b>B</b>)</span>
<span class="t" style="left:483.70px;top:220.00px;font-size:7.0px;transform:scaleX(0.7200);-webkit-text-stroke:0.18px;">12:44</span>
<span class="t" style="left:514.08px;top:220.00px;font-size:7.0px;transform:scaleX(0.7200);-webkit-text-stroke:0.18px;">12:59</span>
<span class="t" style="left:544.45px;top:220.00px;font-size:7.0px;transform:scaleX(0.7200);-webkit-text-stroke:0.18px;">13:09</span>
<span class="t" style="left:574.83px;top:220.00px;font-size:7.0px;transform:scaleX(0.7200);-webkit-text-stroke:0.18px;">18:34</span>
<span class="t" style="left:605.20px;top:220.00px;font-size:7.0px;transform:scaleX(0.7200);-webkit-text-stroke:0.18px;">18:44</span>
<span class="t" style="left:640.93px;top:219.10px;font-size:7.4px;color:#111;-webkit-text-stroke:0.12px #111;">|</span>
<span class="t" style="left:675.54px;top:220.00px;font-size:7.0px;transform:scaleX(0.7200);-webkit-text-stroke:0.18px;">12:44</span>
<span class="t" style="left:706.09px;top:220.00px;font-size:7.0px;transform:scaleX(0.7200);-webkit-text-stroke:0.18px;">18:34</span>
<span class="t" style="left:262.90px;top:234.12px;font-size:7.0px;font-weight:700;transform:scaleX(0.6900);-webkit-text-stroke:0.24px;">LOQUEFFRET</span>
<span class="t" style="left:341.50px;top:234.12px;font-size:7.0px;transform:scaleX(0.7200);-webkit-text-stroke:0.18px;">Bourg</span>
<span class="t" style="left:422.95px;top:234.12px;font-size:7.0px;transform:scaleX(0.7200);-webkit-text-stroke:0.18px;">06:35</span>
<span class="t" style="left:458.68px;top:233.22px;font-size:7.4px;color:#111;-webkit-text-stroke:0.12px #111;">|</span>
<span class="t" style="left:489.05px;top:233.22px;font-size:7.4px;color:#111;-webkit-text-stroke:0.12px #111;">|</span>
<span class="t" style="left:514.08px;top:234.12px;font-size:7.0px;transform:scaleX(0.7200);-webkit-text-stroke:0.18px;">13:10</span>
<span class="t" style="left:549.80px;top:233.22px;font-size:7.4px;color:#111;-webkit-text-stroke:0.12px #111;">|</span>
<span class="t" style="left:580.18px;top:233.22px;font-size:7.4px;color:#111;-webkit-text-stroke:0.12px #111;">|</span>
<span class="t" style="left:610.55px;top:233.22px;font-size:7.4px;color:#111;-webkit-text-stroke:0.12px #111;">|</span>
<span class="t" style="left:635.58px;top:234.12px;font-size:7.0px;transform:scaleX(0.7200);-webkit-text-stroke:0.18px;">18:25</span>
<span class="t" style="left:680.89px;top:233.22px;font-size:7.4px;color:#111;-webkit-text-stroke:0.12px #111;">|</span>
<span class="t" style="left:711.44px;top:233.22px;font-size:7.4px;color:#111;-webkit-text-stroke:0.12px #111;">|</span>
<span class="t" style="left:262.90px;top:248.25px;font-size:7.0px;font-weight:700;transform:scaleX(0.6900);-webkit-text-stroke:0.24px;">LANNÉDERN</span>
<span class="t" style="left:341.50px;top:248.25px;font-size:7.0px;transform:scaleX(0.7200);-webkit-text-stroke:0.18px;">Bourg</span>
<span class="t" style="left:428.30px;top:247.35px;font-size:7.4px;color:#111;-webkit-text-stroke:0.12px #111;">|</span>
<span class="t" style="left:458.68px;top:247.35px;font-size:7.4px;color:#111;-webkit-text-stroke:0.12px #111;">|</span>
<span class="t" style="left:489.05px;top:247.35px;font-size:7.4px;color:#111;-webkit-text-stroke:0.12px #111;">|</span>
<span class="t" style="left:514.08px;top:248.25px;font-size:7.0px;transform:scaleX(0.7200);-webkit-text-stroke:0.18px;">13:15</span>
<span class="t" style="left:549.80px;top:247.35px;font-size:7.4px;color:#111;-webkit-text-stroke:0.12px #111;">|</span>
<span class="t" style="left:580.18px;top:247.35px;font-size:7.4px;color:#111;-webkit-text-stroke:0.12px #111;">|</span>
<span class="t" style="left:610.55px;top:247.35px;font-size:7.4px;color:#111;-webkit-text-stroke:0.12px #111;">|</span>
<span class="t" style="left:635.58px;top:248.25px;font-size:7.0px;transform:scaleX(0.7200);-webkit-text-stroke:0.18px;">18:30</span>
<span class="t" style="left:680.89px;top:247.35px;font-size:7.4px;color:#111;-webkit-text-stroke:0.12px #111;">|</span>
<span class="t" style="left:711.44px;top:247.35px;font-size:7.4px;color:#111;-webkit-text-stroke:0.12px #111;">|</span>
<span class="t" style="left:262.90px;top:262.38px;font-size:7.0px;font-weight:700;transform:scaleX(0.6900);-webkit-text-stroke:0.24px;">BRASPARTS</span>
<span class="t" style="left:341.50px;top:262.38px;font-size:7.0px;transform:scaleX(0.7200);-webkit-text-stroke:0.18px;">Place de la Liberté</span>
<span class="t" style="left:428.30px;top:261.48px;font-size:7.4px;color:#111;-webkit-text-stroke:0.12px #111;">|</span>
<span class="t" style="left:458.68px;top:261.48px;font-size:7.4px;color:#111;-webkit-text-stroke:0.12px #111;">|</span>
<span class="t" style="left:489.05px;top:261.48px;font-size:7.4px;color:#111;-webkit-text-stroke:0.12px #111;">|</span>
<span class="t" style="left:514.08px;top:262.38px;font-size:7.0px;transform:scaleX(0.7200);-webkit-text-stroke:0.18px;">13:20</span>
<span class="t" style="left:549.80px;top:261.48px;font-size:7.4px;color:#111;-webkit-text-stroke:0.12px #111;">|</span>
<span class="t" style="left:580.18px;top:261.48px;font-size:7.4px;color:#111;-webkit-text-stroke:0.12px #111;">|</span>
<span class="t" style="left:610.55px;top:261.48px;font-size:7.4px;color:#111;-webkit-text-stroke:0.12px #111;">|</span>
<span class="t" style="left:635.58px;top:262.38px;font-size:7.0px;transform:scaleX(0.7200);-webkit-text-stroke:0.18px;">18:35</span>
<span class="t" style="left:680.89px;top:261.48px;font-size:7.4px;color:#111;-webkit-text-stroke:0.12px #111;">|</span>
<span class="t" style="left:711.44px;top:261.48px;font-size:7.4px;color:#111;-webkit-text-stroke:0.12px #111;">|</span>
<span class="t" style="left:262.90px;top:276.50px;font-size:7.0px;font-weight:700;transform:scaleX(0.6900);-webkit-text-stroke:0.24px;">PLONÉVEZ-DU-FAOU</span>
<span class="t" style="left:341.50px;top:276.50px;font-size:7.0px;transform:scaleX(0.7200);-webkit-text-stroke:0.18px;">Bourg</span>
<span class="t" style="left:422.95px;top:276.50px;font-size:7.0px;transform:scaleX(0.7200);-webkit-text-stroke:0.18px;">06:45</span>
<span class="t" style="left:458.68px;top:275.60px;font-size:7.4px;color:#111;-webkit-text-stroke:0.12px #111;">|</span>
<span class="t" style="left:489.05px;top:275.60px;font-size:7.4px;color:#111;-webkit-text-stroke:0.12px #111;">|</span>
<span class="t" style="left:519.43px;top:275.60px;font-size:7.4px;color:#111;-webkit-text-stroke:0.12px #111;">|</span>
<span class="t" style="left:549.80px;top:275.60px;font-size:7.4px;color:#111;-webkit-text-stroke:0.12px #111;">|</span>
<span class="t" style="left:580.18px;top:275.60px;font-size:7.4px;color:#111;-webkit-text-stroke:0.12px #111;">|</span>
<span class="t" style="left:610.55px;top:275.60px;font-size:7.4px;color:#111;-webkit-text-stroke:0.12px #111;">|</span>
<span class="t" style="left:640.93px;top:275.60px;font-size:7.4px;color:#111;-webkit-text-stroke:0.12px #111;">|</span>
<span class="t" style="left:680.89px;top:275.60px;font-size:7.4px;color:#111;-webkit-text-stroke:0.12px #111;">|</span>
<span class="t" style="left:711.44px;top:275.60px;font-size:7.4px;color:#111;-webkit-text-stroke:0.12px #111;">|</span>
<span class="t" style="left:262.90px;top:290.62px;font-size:7.0px;font-weight:700;transform:scaleX(0.6900);-webkit-text-stroke:0.24px;">PLEYBEN</span>
<span class="t" style="left:341.50px;top:290.62px;font-size:7.0px;transform:scaleX(0.7200);-webkit-text-stroke:0.18px;">Bourg</span>
<span class="t" style="left:422.95px;top:290.62px;font-size:7.0px;transform:scaleX(0.7200);-webkit-text-stroke:0.18px;">07:02</span>
<span class="t" style="left:458.68px;top:289.73px;font-size:7.4px;color:#111;-webkit-text-stroke:0.12px #111;">|</span>
<span class="t" style="left:489.05px;top:289.73px;font-size:7.4px;color:#111;-webkit-text-stroke:0.12px #111;">|</span>
<span class="t" style="left:514.08px;top:290.62px;font-size:7.0px;transform:scaleX(0.7200);-webkit-text-stroke:0.18px;">13:30</span>
<span class="t" style="left:549.80px;top:289.73px;font-size:7.4px;color:#111;-webkit-text-stroke:0.12px #111;">|</span>
<span class="t" style="left:580.18px;top:289.73px;font-size:7.4px;color:#111;-webkit-text-stroke:0.12px #111;">|</span>
<span class="t" style="left:610.55px;top:289.73px;font-size:7.4px;color:#111;-webkit-text-stroke:0.12px #111;">|</span>
<span class="t" style="left:635.58px;top:290.62px;font-size:7.0px;transform:scaleX(0.7200);-webkit-text-stroke:0.18px;">18:45</span>
<span class="t" style="left:680.89px;top:289.73px;font-size:7.4px;color:#111;-webkit-text-stroke:0.12px #111;">|</span>
<span class="t" style="left:711.44px;top:289.73px;font-size:7.4px;color:#111;-webkit-text-stroke:0.12px #111;">|</span>
<span class="t" style="left:341.50px;top:304.75px;font-size:7.0px;transform:scaleX(0.7200);-webkit-text-stroke:0.18px;">Pont-Coblant</span>
<span class="t" style="left:428.30px;top:303.85px;font-size:7.4px;color:#111;-webkit-text-stroke:0.12px #111;">|</span>
<span class="t" style="left:458.68px;top:303.85px;font-size:7.4px;color:#111;-webkit-text-stroke:0.12px #111;">|</span>
<span class="t" style="left:489.05px;top:303.85px;font-size:7.4px;color:#111;-webkit-text-stroke:0.12px #111;">|</span>
<span class="t" style="left:514.08px;top:304.75px;font-size:7.0px;transform:scaleX(0.7200);-webkit-text-stroke:0.18px;">13:36</span>
<span class="t" style="left:549.80px;top:303.85px;font-size:7.4px;color:#111;-webkit-text-stroke:0.12px #111;">|</span>
<span class="t" style="left:580.18px;top:303.85px;font-size:7.4px;color:#111;-webkit-text-stroke:0.12px #111;">|</span>
<span class="t" style="left:610.55px;top:303.85px;font-size:7.4px;color:#111;-webkit-text-stroke:0.12px #111;">|</span>
<span class="t" style="left:635.58px;top:304.75px;font-size:7.0px;transform:scaleX(0.7200);-webkit-text-stroke:0.18px;">18:51</span>
<span class="t" style="left:680.89px;top:303.85px;font-size:7.4px;color:#111;-webkit-text-stroke:0.12px #111;">|</span>
<span class="t" style="left:711.44px;top:303.85px;font-size:7.4px;color:#111;-webkit-text-stroke:0.12px #111;">|</span>
<span class="t" style="left:262.90px;top:318.88px;font-size:7.0px;font-weight:700;transform:scaleX(0.6900);-webkit-text-stroke:0.24px;">BRIEC</span>
<span class="t" style="left:341.50px;top:318.88px;font-size:7.0px;transform:scaleX(0.7200);-webkit-text-stroke:0.18px;">Bourg</span>
<span class="t" style="left:428.30px;top:317.98px;font-size:7.4px;color:#111;-webkit-text-stroke:0.12px #111;">|</span>
<span class="t" style="left:458.68px;top:317.98px;font-size:7.4px;color:#111;-webkit-text-stroke:0.12px #111;">|</span>
<span class="t" style="left:489.05px;top:317.98px;font-size:7.4px;color:#111;-webkit-text-stroke:0.12px #111;">|</span>
<span class="t" style="left:514.08px;top:318.88px;font-size:7.0px;transform:scaleX(0.7200);-webkit-text-stroke:0.18px;">13:50</span>
<span class="t" style="left:549.80px;top:317.98px;font-size:7.4px;color:#111;-webkit-text-stroke:0.12px #111;">|</span>
<span class="t" style="left:580.18px;top:317.98px;font-size:7.4px;color:#111;-webkit-text-stroke:0.12px #111;">|</span>
<span class="t" style="left:610.55px;top:317.98px;font-size:7.4px;color:#111;-webkit-text-stroke:0.12px #111;">|</span>
<span class="t" style="left:635.58px;top:318.88px;font-size:7.0px;transform:scaleX(0.7200);-webkit-text-stroke:0.18px;">19:05</span>
<span class="t" style="left:680.89px;top:317.98px;font-size:7.4px;color:#111;-webkit-text-stroke:0.12px #111;">|</span>
<span class="t" style="left:711.44px;top:317.98px;font-size:7.4px;color:#111;-webkit-text-stroke:0.12px #111;">|</span>
<span class="t" style="left:262.90px;top:333.00px;font-size:7.0px;font-weight:700;transform:scaleX(0.6900);-webkit-text-stroke:0.24px;">QUIMPER</span>
<span class="t" style="left:341.50px;top:333.00px;font-size:7.0px;transform:scaleX(0.7200);-webkit-text-stroke:0.18px;">Tourbie</span>
<span class="t" style="left:422.95px;top:333.00px;font-size:7.0px;transform:scaleX(0.7200);-webkit-text-stroke:0.18px;">07:40</span>
<span class="t" style="left:458.68px;top:332.10px;font-size:7.4px;color:#111;-webkit-text-stroke:0.12px #111;">|</span>
<span class="t" style="left:489.05px;top:332.10px;font-size:7.4px;color:#111;-webkit-text-stroke:0.12px #111;">|</span>
<span class="t" style="left:519.43px;top:332.10px;font-size:7.4px;color:#111;-webkit-text-stroke:0.12px #111;">|</span>
<span class="t" style="left:549.80px;top:332.10px;font-size:7.4px;color:#111;-webkit-text-stroke:0.12px #111;">|</span>
<span class="t" style="left:580.18px;top:332.10px;font-size:7.4px;color:#111;-webkit-text-stroke:0.12px #111;">|</span>
<span class="t" style="left:610.55px;top:332.10px;font-size:7.4px;color:#111;-webkit-text-stroke:0.12px #111;">|</span>
<span class="t" style="left:640.93px;top:332.10px;font-size:7.4px;color:#111;-webkit-text-stroke:0.12px #111;">|</span>
<span class="t" style="left:680.89px;top:332.10px;font-size:7.4px;color:#111;-webkit-text-stroke:0.12px #111;">|</span>
<span class="t" style="left:711.44px;top:332.10px;font-size:7.4px;color:#111;-webkit-text-stroke:0.12px #111;">|</span>
<span class="t" style="left:341.50px;top:347.12px;font-size:7.0px;transform:scaleX(0.7200);-webkit-text-stroke:0.18px;">Gare Routière SNCF</span>
<span class="t" style="left:422.95px;top:347.12px;font-size:7.0px;transform:scaleX(0.7200);-webkit-text-stroke:0.18px;">07:50</span>
<span class="t" style="left:458.68px;top:346.23px;font-size:7.4px;color:#111;-webkit-text-stroke:0.12px #111;">|</span>
<span class="t" style="left:489.05px;top:346.23px;font-size:7.4px;color:#111;-webkit-text-stroke:0.12px #111;">|</span>
<span class="t" style="left:514.08px;top:347.12px;font-size:7.0px;transform:scaleX(0.7200);-webkit-text-stroke:0.18px;">14:10</span>
<span class="t" style="left:549.80px;top:346.23px;font-size:7.4px;color:#111;-webkit-text-stroke:0.12px #111;">|</span>
<span class="t" style="left:580.18px;top:346.23px;font-size:7.4px;color:#111;-webkit-text-stroke:0.12px #111;">|</span>
<span class="t" style="left:610.55px;top:346.23px;font-size:7.4px;color:#111;-webkit-text-stroke:0.12px #111;">|</span>
<span class="t" style="left:635.58px;top:347.12px;font-size:7.0px;transform:scaleX(0.7200);-webkit-text-stroke:0.18px;">19:25</span>
<span class="t" style="left:680.89px;top:346.23px;font-size:7.4px;color:#111;-webkit-text-stroke:0.12px #111;">|</span>
<span class="t" style="left:711.44px;top:346.23px;font-size:7.4px;color:#111;-webkit-text-stroke:0.12px #111;">|</span>
<span class="t" style="left:262.90px;top:439.80px;font-size:7.0px;color:#fff;transform:scaleX(0.7200);-webkit-text-stroke:0.18px;">Jours de circulation</span>
<span class="t" style="left:433.80px;top:439.80px;font-size:7.0px;font-weight:700;color:#fff;transform:scaleX(0.6900);-webkit-text-stroke:0.08px;">L</span>
<span class="t" style="left:456.85px;top:439.80px;font-size:7.0px;font-weight:700;color:#fff;transform:scaleX(0.6900);-webkit-text-stroke:0.08px;">MMeJV</span>
<span class="t" style="left:493.46px;top:439.80px;font-size:7.0px;font-weight:700;color:#fff;transform:scaleX(0.6900);-webkit-text-stroke:0.08px;">V</span>
<span class="t" style="left:520.14px;top:439.80px;font-size:7.0px;font-weight:700;color:#fff;transform:scaleX(0.6900);-webkit-text-stroke:0.08px;">LMJ</span>
<span class="t" style="left:549.90px;top:439.80px;font-size:7.0px;font-weight:700;color:#fff;transform:scaleX(0.6900);-webkit-text-stroke:0.08px;">MeV</span>
<span class="t" style="left:581.42px;top:439.80px;font-size:7.0px;font-weight:700;color:#fff;transform:scaleX(0.6900);-webkit-text-stroke:0.08px;">Me</span>
<span class="t" style="left:613.06px;top:439.80px;font-size:7.0px;font-weight:700;color:#fff;transform:scaleX(0.6900);-webkit-text-stroke:0.08px;">V</span>
<span class="t" style="left:634.77px;top:439.80px;font-size:7.0px;font-weight:700;color:#fff;transform:scaleX(0.6900);-webkit-text-stroke:0.08px;">LMMeJV</span>
<span class="t" style="left:681.01px;top:439.80px;font-size:7.0px;font-weight:700;color:#fff;transform:scaleX(0.6900);-webkit-text-stroke:0.08px;">S</span>
<span class="t" style="left:711.11px;top:439.80px;font-size:7.0px;font-weight:700;color:#fff;transform:scaleX(0.6900);-webkit-text-stroke:0.08px;">S</span>
<span class="t" style="left:262.90px;top:453.57px;font-size:7.0px;transform:scaleX(0.7200);-webkit-text-stroke:0.18px;">Période Scolaire</span>
<span class="t" style="left:431.35px;top:453.57px;font-size:7.0px;transform:scaleX(0.7200);-webkit-text-stroke:0.18px;">Oui</span>
<span class="t" style="left:461.25px;top:453.57px;font-size:7.0px;transform:scaleX(0.7200);-webkit-text-stroke:0.18px;">Oui</span>
<span class="t" style="left:491.15px;top:453.57px;font-size:7.0px;transform:scaleX(0.7200);-webkit-text-stroke:0.18px;">Oui</span>
<span class="t" style="left:521.05px;top:453.57px;font-size:7.0px;transform:scaleX(0.7200);-webkit-text-stroke:0.18px;">Oui</span>
<span class="t" style="left:550.25px;top:453.57px;font-size:7.0px;transform:scaleX(0.7200);-webkit-text-stroke:0.18px;">Non</span>
<span class="t" style="left:580.85px;top:453.57px;font-size:7.0px;transform:scaleX(0.7200);-webkit-text-stroke:0.18px;">Oui</span>
<span class="t" style="left:610.75px;top:453.57px;font-size:7.0px;transform:scaleX(0.7200);-webkit-text-stroke:0.18px;">Oui</span>
<span class="t" style="left:640.65px;top:453.57px;font-size:7.0px;transform:scaleX(0.7200);-webkit-text-stroke:0.18px;">Oui</span>
<span class="t" style="left:678.70px;top:453.57px;font-size:7.0px;transform:scaleX(0.7200);-webkit-text-stroke:0.18px;">Oui</span>
<span class="t" style="left:708.80px;top:453.57px;font-size:7.0px;transform:scaleX(0.7200);-webkit-text-stroke:0.18px;">Oui</span>
<span class="t" style="left:262.90px;top:467.35px;font-size:7.0px;transform:scaleX(0.7200);-webkit-text-stroke:0.18px;">Période de vacances scolaires</span>
<span class="t" style="left:430.65px;top:467.35px;font-size:7.0px;transform:scaleX(0.7200);-webkit-text-stroke:0.18px;">Non</span>
<span class="t" style="left:460.55px;top:467.35px;font-size:7.0px;transform:scaleX(0.7200);-webkit-text-stroke:0.18px;">Non</span>
<span class="t" style="left:490.45px;top:467.35px;font-size:7.0px;transform:scaleX(0.7200);-webkit-text-stroke:0.18px;">Non</span>
<span class="t" style="left:521.05px;top:467.35px;font-size:7.0px;transform:scaleX(0.7200);-webkit-text-stroke:0.18px;">Oui</span>
<span class="t" style="left:550.95px;top:467.35px;font-size:7.0px;transform:scaleX(0.7200);-webkit-text-stroke:0.18px;">Oui</span>
<span class="t" style="left:580.15px;top:467.35px;font-size:7.0px;transform:scaleX(0.7200);-webkit-text-stroke:0.18px;">Non</span>
<span class="t" style="left:610.05px;top:467.35px;font-size:7.0px;transform:scaleX(0.7200);-webkit-text-stroke:0.18px;">Non</span>
<span class="t" style="left:640.65px;top:467.35px;font-size:7.0px;transform:scaleX(0.7200);-webkit-text-stroke:0.18px;">Oui</span>
<span class="t" style="left:678.70px;top:467.35px;font-size:7.0px;transform:scaleX(0.7200);-webkit-text-stroke:0.18px;">Oui</span>
<span class="t" style="left:708.80px;top:467.35px;font-size:7.0px;transform:scaleX(0.7200);-webkit-text-stroke:0.18px;">Oui</span>
<span class="t" style="left:262.90px;top:481.12px;font-size:7.0px;transform:scaleX(0.7200);-webkit-text-stroke:0.18px;">Affichage sur autocar</span>
<span class="t" style="left:429.67px;top:481.12px;font-size:7.0px;transform:scaleX(0.7200);-webkit-text-stroke:0.18px;">6000</span>
<span class="t" style="left:459.57px;top:481.12px;font-size:7.0px;transform:scaleX(0.7200);-webkit-text-stroke:0.18px;">6002</span>
<span class="t" style="left:489.47px;top:481.12px;font-size:7.0px;transform:scaleX(0.7200);-webkit-text-stroke:0.18px;">6001</span>
<span class="t" style="left:609.07px;top:481.12px;font-size:7.0px;transform:scaleX(0.7200);-webkit-text-stroke:0.18px;">6001</span>
<span class="t" style="left:262.90px;top:494.90px;font-size:7.0px;transform:scaleX(0.7200);-webkit-text-stroke:0.18px;">Renvois à consulter</span>
<span class="t" style="left:433.53px;top:494.90px;font-size:7.0px;font-weight:700;transform:scaleX(0.6900);-webkit-text-stroke:0.24px;">A</span>
<span class="t" style="left:262.90px;top:508.67px;font-size:7.0px;font-weight:700;transform:scaleX(0.6900);-webkit-text-stroke:0.24px;">QUIMPER</span>
<span class="t" style="left:346.70px;top:508.67px;font-size:7.0px;transform:scaleX(0.7200);-webkit-text-stroke:0.18px;">Gare Routière SNCF</span>
<span class="t" style="left:428.96px;top:508.67px;font-size:7.0px;transform:scaleX(0.7200);-webkit-text-stroke:0.18px;">05:50</span>
<span class="t" style="left:464.21px;top:507.77px;font-size:7.4px;color:#111;-webkit-text-stroke:0.12px #111;">|</span>
<span class="t" style="left:488.76px;top:508.67px;font-size:7.0px;transform:scaleX(0.7200);-webkit-text-stroke:0.18px;">12:15</span>
<span class="t" style="left:524.01px;top:507.77px;font-size:7.4px;color:#111;-webkit-text-stroke:0.12px #111;">|</span>
<span class="t" style="left:553.91px;top:507.77px;font-size:7.4px;color:#111;-webkit-text-stroke:0.12px #111;">|</span>
<span class="t" style="left:583.81px;top:507.77px;font-size:7.4px;color:#111;-webkit-text-stroke:0.12px #111;">|</span>
<span class="t" style="left:608.36px;top:508.67px;font-size:7.0px;transform:scaleX(0.7200);-webkit-text-stroke:0.18px;">17:25</span>
<span class="t" style="left:643.61px;top:507.77px;font-size:7.4px;color:#111;-webkit-text-stroke:0.12px #111;">|</span>
<span class="t" style="left:681.66px;top:507.77px;font-size:7.4px;color:#111;-webkit-text-stroke:0.12px #111;">|</span>
<span class="t" style="left:711.76px;top:507.77px;font-size:7.4px;color:#111;-webkit-text-stroke:0.12px #111;">|</span>
<span class="t" style="left:346.70px;top:522.45px;font-size:7.0px;transform:scaleX(0.7200);-webkit-text-stroke:0.18px;">Alexandre Massé</span>
<span class="t" style="left:434.31px;top:521.55px;font-size:7.4px;color:#111;-webkit-text-stroke:0.12px #111;">|</span>
<span class="t" style="left:464.21px;top:521.55px;font-size:7.4px;color:#111;-webkit-text-stroke:0.12px #111;">|</span>
<span class="t" style="left:488.76px;top:522.45px;font-size:7.0px;transform:scaleX(0.7200);-webkit-text-stroke:0.18px;">12:20</span>
<span class="t" style="left:524.01px;top:521.55px;font-size:7.4px;color:#111;-webkit-text-stroke:0.12px #111;">|</span>
<span class="t" style="left:553.91px;top:521.55px;font-size:7.4px;color:#111;-webkit-text-stroke:0.12px #111;">|</span>
<span class="t" style="left:583.81px;top:521.55px;font-size:7.4px;color:#111;-webkit-text-stroke:0.12px #111;">|</span>
<span class="t" style="left:608.36px;top:522.45px;font-size:7.0px;transform:scaleX(0.7200);-webkit-text-stroke:0.18px;">17:30</span>
<span class="t" style="left:643.61px;top:521.55px;font-size:7.4px;color:#111;-webkit-text-stroke:0.12px #111;">|</span>
<span class="t" style="left:681.66px;top:521.55px;font-size:7.4px;color:#111;-webkit-text-stroke:0.12px #111;">|</span>
<span class="t" style="left:711.76px;top:521.55px;font-size:7.4px;color:#111;-webkit-text-stroke:0.12px #111;">|</span>
<span class="t" style="left:262.90px;top:536.23px;font-size:7.0px;font-weight:700;transform:scaleX(0.6900);-webkit-text-stroke:0.24px;">BRIEC</span>
<span class="t" style="left:346.70px;top:536.23px;font-size:7.0px;transform:scaleX(0.7200);-webkit-text-stroke:0.18px;">Bourg</span>
<span class="t" style="left:424.56px;top:536.23px;font-size:7.0px;transform:scaleX(0.7200);-webkit-text-stroke:0.18px;">06:10</span>
<span class="t" style="left:464.21px;top:535.33px;font-size:7.4px;color:#111;-webkit-text-stroke:0.12px #111;">|</span>
<span class="t" style="left:494.11px;top:535.33px;font-size:7.4px;color:#111;-webkit-text-stroke:0.12px #111;">|</span>
<span class="t" style="left:524.01px;top:535.33px;font-size:7.4px;color:#111;-webkit-text-stroke:0.12px #111;">|</span>
<span class="t" style="left:553.91px;top:535.33px;font-size:7.4px;color:#111;-webkit-text-stroke:0.12px #111;">|</span>
<span class="t" style="left:583.81px;top:535.33px;font-size:7.4px;color:#111;-webkit-text-stroke:0.12px #111;">|</span>
<span class="t" style="left:613.71px;top:535.33px;font-size:7.4px;color:#111;-webkit-text-stroke:0.12px #111;">|</span>
<span class="t" style="left:643.61px;top:535.33px;font-size:7.4px;color:#111;-webkit-text-stroke:0.12px #111;">|</span>
<span class="t" style="left:681.66px;top:535.33px;font-size:7.4px;color:#111;-webkit-text-stroke:0.12px #111;">|</span>
<span class="t" style="left:711.76px;top:535.33px;font-size:7.4px;color:#111;-webkit-text-stroke:0.12px #111;">|</span>
<span class="t" style="left:262.90px;top:550.00px;font-size:7.0px;font-weight:700;transform:scaleX(0.6900);-webkit-text-stroke:0.24px;">PLEYBEN</span>
<span class="t" style="left:346.70px;top:550.00px;font-size:7.0px;transform:scaleX(0.7200);-webkit-text-stroke:0.18px;">Pont-Coblant</span>
<span class="t" style="left:428.96px;top:550.00px;font-size:7.0px;transform:scaleX(0.7200);-webkit-text-stroke:0.18px;">06:25</span>
<span class="t" style="left:464.21px;top:549.10px;font-size:7.4px;color:#111;-webkit-text-stroke:0.12px #111;">|</span>
<span class="t" style="left:494.11px;top:549.10px;font-size:7.4px;color:#111;-webkit-text-stroke:0.12px #111;">|</span>
<span class="t" style="left:524.01px;top:549.10px;font-size:7.4px;color:#111;-webkit-text-stroke:0.12px #111;">|</span>
<span class="t" style="left:553.91px;top:549.10px;font-size:7.4px;color:#111;-webkit-text-stroke:0.12px #111;">|</span>
<span class="t" style="left:583.81px;top:549.10px;font-size:7.4px;color:#111;-webkit-text-stroke:0.12px #111;">|</span>
<span class="t" style="left:613.71px;top:549.10px;font-size:7.4px;color:#111;-webkit-text-stroke:0.12px #111;">|</span>
<span class="t" style="left:643.61px;top:549.10px;font-size:7.4px;color:#111;-webkit-text-stroke:0.12px #111;">|</span>
<span class="t" style="left:681.66px;top:549.10px;font-size:7.4px;color:#111;-webkit-text-stroke:0.12px #111;">|</span>
<span class="t" style="left:711.76px;top:549.10px;font-size:7.4px;color:#111;-webkit-text-stroke:0.12px #111;">|</span>
<span class="t" style="left:346.70px;top:563.77px;font-size:7.0px;transform:scaleX(0.7200);-webkit-text-stroke:0.18px;">Bourg</span>
<span class="t" style="left:428.96px;top:563.77px;font-size:7.0px;transform:scaleX(0.7200);-webkit-text-stroke:0.18px;">06:30</span>
<span class="t" style="left:464.21px;top:562.88px;font-size:7.4px;color:#111;-webkit-text-stroke:0.12px #111;">|</span>
<span class="t" style="left:488.76px;top:563.77px;font-size:7.0px;transform:scaleX(0.7200);-webkit-text-stroke:0.18px;">12:50</span>
<span class="t" style="left:524.01px;top:562.88px;font-size:7.4px;color:#111;-webkit-text-stroke:0.12px #111;">|</span>
<span class="t" style="left:553.91px;top:562.88px;font-size:7.4px;color:#111;-webkit-text-stroke:0.12px #111;">|</span>
<span class="t" style="left:583.81px;top:562.88px;font-size:7.4px;color:#111;-webkit-text-stroke:0.12px #111;">|</span>
<span class="t" style="left:608.36px;top:563.77px;font-size:7.0px;transform:scaleX(0.7200);-webkit-text-stroke:0.18px;">18:00</span>
<span class="t" style="left:643.61px;top:562.88px;font-size:7.4px;color:#111;-webkit-text-stroke:0.12px #111;">|</span>
<span class="t" style="left:681.66px;top:562.88px;font-size:7.4px;color:#111;-webkit-text-stroke:0.12px #111;">|</span>
<span class="t" style="left:711.76px;top:562.88px;font-size:7.4px;color:#111;-webkit-text-stroke:0.12px #111;">|</span>
<span class="t" style="left:262.90px;top:577.55px;font-size:7.0px;font-weight:700;transform:scaleX(0.6900);-webkit-text-stroke:0.24px;">PLONÉVEZ-DU-FAOU</span>
<span class="t" style="left:346.70px;top:577.55px;font-size:7.0px;transform:scaleX(0.7200);-webkit-text-stroke:0.18px;">Bourg</span>
<span class="t" style="left:434.31px;top:576.65px;font-size:7.4px;color:#111;-webkit-text-stroke:0.12px #111;">|</span>
<span class="t" style="left:464.21px;top:576.65px;font-size:7.4px;color:#111;-webkit-text-stroke:0.12px #111;">|</span>
<span class="t" style="left:488.76px;top:577.55px;font-size:7.0px;transform:scaleX(0.7200);-webkit-text-stroke:0.18px;">13:05</span>
<span class="t" style="left:524.01px;top:576.65px;font-size:7.4px;color:#111;-webkit-text-stroke:0.12px #111;">|</span>
<span class="t" style="left:553.91px;top:576.65px;font-size:7.4px;color:#111;-webkit-text-stroke:0.12px #111;">|</span>
<span class="t" style="left:583.81px;top:576.65px;font-size:7.4px;color:#111;-webkit-text-stroke:0.12px #111;">|</span>
<span class="t" style="left:608.36px;top:577.55px;font-size:7.0px;transform:scaleX(0.7200);-webkit-text-stroke:0.18px;">18:15</span>
<span class="t" style="left:643.61px;top:576.65px;font-size:7.4px;color:#111;-webkit-text-stroke:0.12px #111;">|</span>
<span class="t" style="left:681.66px;top:576.65px;font-size:7.4px;color:#111;-webkit-text-stroke:0.12px #111;">|</span>
<span class="t" style="left:711.76px;top:576.65px;font-size:7.4px;color:#111;-webkit-text-stroke:0.12px #111;">|</span>
<span class="t" style="left:262.90px;top:591.33px;font-size:7.0px;font-weight:700;transform:scaleX(0.6900);-webkit-text-stroke:0.24px;">BRASPARTS</span>
<span class="t" style="left:346.70px;top:591.33px;font-size:7.0px;transform:scaleX(0.7200);-webkit-text-stroke:0.18px;">Place de la Liberté</span>
<span class="t" style="left:428.96px;top:591.33px;font-size:7.0px;transform:scaleX(0.7200);-webkit-text-stroke:0.18px;">06:40</span>
<span class="t" style="left:464.21px;top:590.43px;font-size:7.4px;color:#111;-webkit-text-stroke:0.12px #111;">|</span>
<span class="t" style="left:494.11px;top:590.43px;font-size:7.4px;color:#111;-webkit-text-stroke:0.12px #111;">|</span>
<span class="t" style="left:524.01px;top:590.43px;font-size:7.4px;color:#111;-webkit-text-stroke:0.12px #111;">|</span>
<span class="t" style="left:553.91px;top:590.43px;font-size:7.4px;color:#111;-webkit-text-stroke:0.12px #111;">|</span>
<span class="t" style="left:583.81px;top:590.43px;font-size:7.4px;color:#111;-webkit-text-stroke:0.12px #111;">|</span>
<span class="t" style="left:613.71px;top:590.43px;font-size:7.4px;color:#111;-webkit-text-stroke:0.12px #111;">|</span>
<span class="t" style="left:643.61px;top:590.43px;font-size:7.4px;color:#111;-webkit-text-stroke:0.12px #111;">|</span>
<span class="t" style="left:681.66px;top:590.43px;font-size:7.4px;color:#111;-webkit-text-stroke:0.12px #111;">|</span>
<span class="t" style="left:711.76px;top:590.43px;font-size:7.4px;color:#111;-webkit-text-stroke:0.12px #111;">|</span>
<span class="t" style="left:262.90px;top:605.10px;font-size:7.0px;font-weight:700;transform:scaleX(0.6900);-webkit-text-stroke:0.24px;">LANNÉDERN</span>
<span class="t" style="left:346.70px;top:605.10px;font-size:7.0px;transform:scaleX(0.7200);-webkit-text-stroke:0.18px;">Bourg</span>
<span class="t" style="left:428.96px;top:605.10px;font-size:7.0px;transform:scaleX(0.7200);-webkit-text-stroke:0.18px;">06:45</span>
<span class="t" style="left:464.21px;top:604.20px;font-size:7.4px;color:#111;-webkit-text-stroke:0.12px #111;">|</span>
<span class="t" style="left:494.11px;top:604.20px;font-size:7.4px;color:#111;-webkit-text-stroke:0.12px #111;">|</span>
<span class="t" style="left:524.01px;top:604.20px;font-size:7.4px;color:#111;-webkit-text-stroke:0.12px #111;">|</span>
<span class="t" style="left:553.91px;top:604.20px;font-size:7.4px;color:#111;-webkit-text-stroke:0.12px #111;">|</span>
<span class="t" style="left:583.81px;top:604.20px;font-size:7.4px;color:#111;-webkit-text-stroke:0.12px #111;">|</span>
<span class="t" style="left:613.71px;top:604.20px;font-size:7.4px;color:#111;-webkit-text-stroke:0.12px #111;">|</span>
<span class="t" style="left:643.61px;top:604.20px;font-size:7.4px;color:#111;-webkit-text-stroke:0.12px #111;">|</span>
<span class="t" style="left:681.66px;top:604.20px;font-size:7.4px;color:#111;-webkit-text-stroke:0.12px #111;">|</span>
<span class="t" style="left:711.76px;top:604.20px;font-size:7.4px;color:#111;-webkit-text-stroke:0.12px #111;">|</span>
<span class="t" style="left:262.90px;top:618.88px;font-size:7.0px;font-weight:700;transform:scaleX(0.6900);-webkit-text-stroke:0.24px;">LOQUEFFRET</span>
<span class="t" style="left:346.70px;top:618.88px;font-size:7.0px;transform:scaleX(0.7200);-webkit-text-stroke:0.18px;">Bourg</span>
<span class="t" style="left:428.96px;top:618.88px;font-size:7.0px;transform:scaleX(0.7200);-webkit-text-stroke:0.18px;">06:50</span>
<span class="t" style="left:464.21px;top:617.98px;font-size:7.4px;color:#111;-webkit-text-stroke:0.12px #111;">|</span>
<span class="t" style="left:488.76px;top:618.88px;font-size:7.0px;transform:scaleX(0.7200);-webkit-text-stroke:0.18px;">13:15</span>
<span class="t" style="left:524.01px;top:617.98px;font-size:7.4px;color:#111;-webkit-text-stroke:0.12px #111;">|</span>
<span class="t" style="left:553.91px;top:617.98px;font-size:7.4px;color:#111;-webkit-text-stroke:0.12px #111;">|</span>
<span class="t" style="left:583.81px;top:617.98px;font-size:7.4px;color:#111;-webkit-text-stroke:0.12px #111;">|</span>
<span class="t" style="left:608.36px;top:618.88px;font-size:7.0px;transform:scaleX(0.7200);-webkit-text-stroke:0.18px;">18:25</span>
<span class="t" style="left:643.61px;top:617.98px;font-size:7.4px;color:#111;-webkit-text-stroke:0.12px #111;">|</span>
<span class="t" style="left:681.66px;top:617.98px;font-size:7.4px;color:#111;-webkit-text-stroke:0.12px #111;">|</span>
<span class="t" style="left:711.76px;top:617.98px;font-size:7.4px;color:#111;-webkit-text-stroke:0.12px #111;">|</span>
<span class="t" style="left:262.90px;top:632.65px;font-size:7.0px;font-weight:700;transform:scaleX(0.6900);-webkit-text-stroke:0.24px;">HUELGOAT</span>
<span class="t" style="left:346.70px;top:632.65px;font-size:7.0px;transform:scaleX(0.7200);-webkit-text-stroke:0.18px;">Bourg</span>
<span class="t" style="left:434.31px;top:631.75px;font-size:7.4px;color:#111;-webkit-text-stroke:0.12px #111;">|</span>
<span class="t" style="left:464.21px;top:631.75px;font-size:7.4px;color:#111;-webkit-text-stroke:0.12px #111;">|</span>
<span class="t" style="left:494.11px;top:631.75px;font-size:7.4px;color:#111;-webkit-text-stroke:0.12px #111;">|</span>
<span class="t" style="left:514.46px;top:632.65px;font-size:7.0px;transform:scaleX(0.7200);-webkit-text-stroke:0.18px;">13:00 (<b>C</b>)</span>
<span class="t" style="left:548.56px;top:632.65px;font-size:7.0px;transform:scaleX(0.7200);-webkit-text-stroke:0.18px;">13:00</span>
<span class="t" style="left:578.46px;top:632.65px;font-size:7.0px;transform:scaleX(0.7200);-webkit-text-stroke:0.18px;">13:10</span>
<span class="t" style="left:613.71px;top:631.75px;font-size:7.4px;color:#111;-webkit-text-stroke:0.12px #111;">|</span>
<span class="t" style="left:638.26px;top:632.65px;font-size:7.0px;transform:scaleX(0.7200);-webkit-text-stroke:0.18px;">18:45</span>
<span class="t" style="left:676.31px;top:632.65px;font-size:7.0px;transform:scaleX(0.7200);-webkit-text-stroke:0.18px;">13:00</span>
<span class="t" style="left:706.41px;top:632.65px;font-size:7.0px;transform:scaleX(0.7200);-webkit-text-stroke:0.18px;">18:45</span>
<span class="t" style="left:262.90px;top:646.43px;font-size:7.0px;font-weight:700;transform:scaleX(0.6900);-webkit-text-stroke:0.24px;">BRENNILIS</span>
<span class="t" style="left:346.70px;top:646.43px;font-size:7.0px;transform:scaleX(0.7200);-webkit-text-stroke:0.18px;">Bourg</span>
<span class="t" style="left:428.96px;top:646.43px;font-size:7.0px;transform:scaleX(0.7200);-webkit-text-stroke:0.18px;">06:55</span>
<span class="t" style="left:458.86px;top:646.43px;font-size:7.0px;transform:scaleX(0.7200);-webkit-text-stroke:0.18px;">06:55</span>
<span class="t" style="left:488.76px;top:646.43px;font-size:7.0px;transform:scaleX(0.7200);-webkit-text-stroke:0.18px;">13:20</span>
<span class="t" style="left:518.66px;top:646.43px;font-size:7.0px;transform:scaleX(0.7200);-webkit-text-stroke:0.18px;">13:13</span>
<span class="t" style="left:548.56px;top:646.43px;font-size:7.0px;transform:scaleX(0.7200);-webkit-text-stroke:0.18px;">13:13</span>
<span class="t" style="left:578.46px;top:646.43px;font-size:7.0px;transform:scaleX(0.7200);-webkit-text-stroke:0.18px;">13:23</span>
<span class="t" style="left:608.36px;top:646.43px;font-size:7.0px;transform:scaleX(0.7200);-webkit-text-stroke:0.18px;">18:30</span>
<span class="t" style="left:638.26px;top:646.43px;font-size:7.0px;transform:scaleX(0.7200);-webkit-text-stroke:0.18px;">18:58</span>
<span class="t" style="left:676.31px;top:646.43px;font-size:7.0px;transform:scaleX(0.7200);-webkit-text-stroke:0.18px;">13:13</span>
<span class="t" style="left:706.41px;top:646.43px;font-size:7.0px;transform:scaleX(0.7200);-webkit-text-stroke:0.18px;">18:58</span>
<span class="t" style="left:262.90px;top:660.20px;font-size:7.0px;font-weight:700;transform:scaleX(0.6900);-webkit-text-stroke:0.24px;">LA FEUILLÉE</span>
<span class="t" style="left:346.70px;top:660.20px;font-size:7.0px;transform:scaleX(0.7200);-webkit-text-stroke:0.18px;">Bourg</span>
<span class="t" style="left:428.96px;top:660.20px;font-size:7.0px;transform:scaleX(0.7200);-webkit-text-stroke:0.18px;">07:00</span>
<span class="t" style="left:458.86px;top:660.20px;font-size:7.0px;transform:scaleX(0.7200);-webkit-text-stroke:0.18px;">07:00</span>
<span class="t" style="left:488.76px;top:660.20px;font-size:7.0px;transform:scaleX(0.7200);-webkit-text-stroke:0.18px;">13:25</span>
<span class="t" style="left:518.66px;top:660.20px;font-size:7.0px;transform:scaleX(0.7200);-webkit-text-stroke:0.18px;">13:18</span>
<span class="t" style="left:548.56px;top:660.20px;font-size:7.0px;transform:scaleX(0.7200);-webkit-text-stroke:0.18px;">13:18</span>
<span class="t" style="left:578.46px;top:660.20px;font-size:7.0px;transform:scaleX(0.7200);-webkit-text-stroke:0.18px;">13:28</span>
<span class="t" style="left:608.36px;top:660.20px;font-size:7.0px;transform:scaleX(0.7200);-webkit-text-stroke:0.18px;">18:35</span>
<span class="t" style="left:638.26px;top:660.20px;font-size:7.0px;transform:scaleX(0.7200);-webkit-text-stroke:0.18px;">19:03</span>
<span class="t" style="left:676.31px;top:660.20px;font-size:7.0px;transform:scaleX(0.7200);-webkit-text-stroke:0.18px;">13:18</span>
<span class="t" style="left:706.41px;top:660.20px;font-size:7.0px;transform:scaleX(0.7200);-webkit-text-stroke:0.18px;">19:03</span>
<span class="t" style="left:262.90px;top:673.98px;font-size:7.0px;font-weight:700;transform:scaleX(0.6900);-webkit-text-stroke:0.24px;">PLOUNÉOUR-MÉNEZ</span>
<span class="t" style="left:346.70px;top:673.98px;font-size:7.0px;transform:scaleX(0.7200);-webkit-text-stroke:0.18px;">Bourg</span>
<span class="t" style="left:434.31px;top:673.08px;font-size:7.4px;color:#111;-webkit-text-stroke:0.12px #111;">|</span>
<span class="t" style="left:464.21px;top:673.08px;font-size:7.4px;color:#111;-webkit-text-stroke:0.12px #111;">|</span>
<span class="t" style="left:488.76px;top:673.98px;font-size:7.0px;transform:scaleX(0.7200);-webkit-text-stroke:0.18px;">13:35</span>
<span class="t" style="left:518.66px;top:673.98px;font-size:7.0px;transform:scaleX(0.7200);-webkit-text-stroke:0.18px;">13:28</span>
<span class="t" style="left:548.56px;top:673.98px;font-size:7.0px;transform:scaleX(0.7200);-webkit-text-stroke:0.18px;">13:28</span>
<span class="t" style="left:578.46px;top:673.98px;font-size:7.0px;transform:scaleX(0.7200);-webkit-text-stroke:0.18px;">13:38</span>
<span class="t" style="left:608.36px;top:673.98px;font-size:7.0px;transform:scaleX(0.7200);-webkit-text-stroke:0.18px;">18:45</span>
<span class="t" style="left:638.26px;top:673.98px;font-size:7.0px;transform:scaleX(0.7200);-webkit-text-stroke:0.18px;">19:13</span>
<span class="t" style="left:676.31px;top:673.98px;font-size:7.0px;transform:scaleX(0.7200);-webkit-text-stroke:0.18px;">13:28</span>
<span class="t" style="left:706.41px;top:673.98px;font-size:7.0px;transform:scaleX(0.7200);-webkit-text-stroke:0.18px;">19:13</span>
<span class="t" style="left:262.90px;top:687.75px;font-size:7.0px;font-weight:700;transform:scaleX(0.6900);-webkit-text-stroke:0.24px;">PLEYBER-CHRIST</span>
<span class="t" style="left:346.70px;top:687.75px;font-size:7.0px;transform:scaleX(0.7200);-webkit-text-stroke:0.18px;">Bourg</span>
<span class="t" style="left:434.31px;top:686.85px;font-size:7.4px;color:#111;-webkit-text-stroke:0.12px #111;">|</span>
<span class="t" style="left:464.21px;top:686.85px;font-size:7.4px;color:#111;-webkit-text-stroke:0.12px #111;">|</span>
<span class="t" style="left:488.76px;top:687.75px;font-size:7.0px;transform:scaleX(0.7200);-webkit-text-stroke:0.18px;">12:45</span>
<span class="t" style="left:518.66px;top:687.75px;font-size:7.0px;transform:scaleX(0.7200);-webkit-text-stroke:0.18px;">13:28</span>
<span class="t" style="left:548.56px;top:687.75px;font-size:7.0px;transform:scaleX(0.7200);-webkit-text-stroke:0.18px;">13:38</span>
<span class="t" style="left:578.46px;top:687.75px;font-size:7.0px;transform:scaleX(0.7200);-webkit-text-stroke:0.18px;">13:48</span>
<span class="t" style="left:608.36px;top:687.75px;font-size:7.0px;transform:scaleX(0.7200);-webkit-text-stroke:0.18px;">18:55</span>
<span class="t" style="left:638.26px;top:687.75px;font-size:7.0px;transform:scaleX(0.7200);-webkit-text-stroke:0.18px;">19:23</span>
<span class="t" style="left:676.31px;top:687.75px;font-size:7.0px;transform:scaleX(0.7200);-webkit-text-stroke:0.18px;">13:38</span>
<span class="t" style="left:706.41px;top:687.75px;font-size:7.0px;transform:scaleX(0.7200);-webkit-text-stroke:0.18px;">19:23</span>
<span class="t" style="left:262.90px;top:701.52px;font-size:7.0px;font-weight:700;transform:scaleX(0.6900);-webkit-text-stroke:0.24px;">MORLAIX</span>
<span class="t" style="left:346.70px;top:701.52px;font-size:7.0px;transform:scaleX(0.7200);-webkit-text-stroke:0.18px;">Lycée Tristan Corbière</span>
<span class="t" style="left:425.46px;top:701.52px;font-size:7.0px;transform:scaleX(0.7200);-webkit-text-stroke:0.18px;">07:35(<b>B</b>)</span>
<span class="t" style="left:455.36px;top:701.52px;font-size:7.0px;transform:scaleX(0.7200);-webkit-text-stroke:0.18px;">07:35(<b>B</b>)</span>
<span class="t" style="left:488.76px;top:701.52px;font-size:7.0px;transform:scaleX(0.7200);-webkit-text-stroke:0.18px;">13:55</span>
<span class="t" style="left:524.01px;top:700.62px;font-size:7.4px;color:#111;-webkit-text-stroke:0.12px #111;">|</span>
<span class="t" style="left:553.91px;top:700.62px;font-size:7.4px;color:#111;-webkit-text-stroke:0.12px #111;">|</span>
<span class="t" style="left:583.81px;top:700.62px;font-size:7.4px;color:#111;-webkit-text-stroke:0.12px #111;">|</span>
<span class="t" style="left:613.71px;top:700.62px;font-size:7.4px;color:#111;-webkit-text-stroke:0.12px #111;">|</span>
<span class="t" style="left:643.61px;top:700.62px;font-size:7.4px;color:#111;-webkit-text-stroke:0.12px #111;">|</span>
<span class="t" style="left:681.66px;top:700.62px;font-size:7.4px;color:#111;-webkit-text-stroke:0.12px #111;">|</span>
<span class="t" style="left:711.76px;top:700.62px;font-size:7.4px;color:#111;-webkit-text-stroke:0.12px #111;">|</span>
<span class="t" style="left:346.70px;top:715.30px;font-size:7.0px;transform:scaleX(0.7200);-webkit-text-stroke:0.18px;">Gare SNCF</span>
<span class="t" style="left:428.96px;top:715.30px;font-size:7.0px;transform:scaleX(0.7200);-webkit-text-stroke:0.18px;">07:45</span>
<span class="t" style="left:464.21px;top:714.40px;font-size:7.4px;color:#111;-webkit-text-stroke:0.12px #111;">|</span>
<span class="t" style="left:488.76px;top:715.30px;font-size:7.0px;transform:scaleX(0.7200);-webkit-text-stroke:0.18px;">14:00</span>
<span class="t" style="left:518.66px;top:715.30px;font-size:7.0px;transform:scaleX(0.7200);-webkit-text-stroke:0.18px;">13:55</span>
<span class="t" style="left:548.56px;top:715.30px;font-size:7.0px;transform:scaleX(0.7200);-webkit-text-stroke:0.18px;">13:55</span>
<span class="t" style="left:578.46px;top:715.30px;font-size:7.0px;transform:scaleX(0.7200);-webkit-text-stroke:0.18px;">14:05</span>
<span class="t" style="left:608.36px;top:715.30px;font-size:7.0px;transform:scaleX(0.7200);-webkit-text-stroke:0.18px;">19:10</span>
<span class="t" style="left:638.26px;top:715.30px;font-size:7.0px;transform:scaleX(0.7200);-webkit-text-stroke:0.18px;">19:38</span>
<span class="t" style="left:676.31px;top:715.30px;font-size:7.0px;transform:scaleX(0.7200);-webkit-text-stroke:0.18px;">13:55</span>
<span class="t" style="left:706.41px;top:715.30px;font-size:7.0px;transform:scaleX(0.7200);-webkit-text-stroke:0.18px;">19:38</span>
<span class="t" style="left:346.70px;top:729.08px;font-size:7.0px;transform:scaleX(0.7200);-webkit-text-stroke:0.18px;">Viaduc</span>
<span class="t" style="left:428.96px;top:729.08px;font-size:7.0px;transform:scaleX(0.7200);-webkit-text-stroke:0.18px;">07:50</span>
<span class="t" style="left:464.21px;top:728.18px;font-size:7.4px;color:#111;-webkit-text-stroke:0.12px #111;">|</span>
<span class="t" style="left:488.76px;top:729.08px;font-size:7.0px;transform:scaleX(0.7200);-webkit-text-stroke:0.18px;">14:05</span>
<span class="t" style="left:518.66px;top:729.08px;font-size:7.0px;transform:scaleX(0.7200);-webkit-text-stroke:0.18px;">14:00</span>
<span class="t" style="left:548.56px;top:729.08px;font-size:7.0px;transform:scaleX(0.7200);-webkit-text-stroke:0.18px;">14:00</span>
<span class="t" style="left:578.46px;top:729.08px;font-size:7.0px;transform:scaleX(0.7200);-webkit-text-stroke:0.18px;">14:10</span>
<span class="t" style="left:608.36px;top:729.08px;font-size:7.0px;transform:scaleX(0.7200);-webkit-text-stroke:0.18px;">19:15</span>
<span class="t" style="left:638.26px;top:729.08px;font-size:7.0px;transform:scaleX(0.7200);-webkit-text-stroke:0.18px;">19:43</span>
<span class="t" style="left:676.31px;top:729.08px;font-size:7.0px;transform:scaleX(0.7200);-webkit-text-stroke:0.18px;">14:00</span>
<span class="t" style="left:706.41px;top:729.08px;font-size:7.0px;transform:scaleX(0.7200);-webkit-text-stroke:0.18px;">19:43</span>
<span class="t" style="left:18.90px;top:40.80px;font-size:7.0px;font-weight:700;color:#4a86bf;transform:scaleX(0.9868);">CALENDRIER DES VACANCES SCOLAIRES 2025/2026 (Zone B)</span>
<span class="t" style="left:21.60px;top:53.00px;font-size:6.6px;font-weight:700;color:#1a1a1a;transform:scaleX(0.9525);">Toussaint</span>
<span class="t" style="left:54.90px;top:53.00px;font-size:6.4px;color:#222;transform:scaleX(0.7667);-webkit-text-stroke:0.18px;">18 octobre au 2 novembre inclus</span>
<span class="t" style="left:21.60px;top:62.90px;font-size:6.6px;font-weight:700;color:#1a1a1a;transform:scaleX(0.9932);">Noël</span>
<span class="t" style="left:54.90px;top:62.90px;font-size:6.4px;color:#222;transform:scaleX(0.7658);-webkit-text-stroke:0.18px;">20 décembre au 4 janvier inclus</span>
<span class="t" style="left:21.60px;top:72.40px;font-size:6.6px;font-weight:700;color:#1a1a1a;transform:scaleX(0.9576);">Hiver</span>
<span class="t" style="left:54.90px;top:72.40px;font-size:6.4px;color:#222;transform:scaleX(0.7683);-webkit-text-stroke:0.18px;">14 février au 1<sup style="font-size:60%;vertical-align:top;line-height:1">er</sup> mars inclus</span>
<span class="t" style="left:21.60px;top:82.20px;font-size:6.6px;font-weight:700;color:#1a1a1a;transform:scaleX(0.7756);-webkit-text-stroke:0.24px;">Jours fériés</span>
<span class="t" style="left:54.90px;top:82.20px;font-size:6.4px;color:#222;transform:scaleX(0.7624);-webkit-text-stroke:0.18px;">samedi 1<sup style="font-size:60%;vertical-align:top;line-height:1">er</sup> novembre 2025, mardi 11 novembre 2025</span>
<span class="t" style="left:18.90px;top:90.60px;font-size:6.4px;color:#222;transform:scaleX(0.7745);-webkit-text-stroke:0.18px;">Les jours fériés les cars circulent comme un dimanche.</span>
<span class="t" style="left:18.90px;top:97.50px;font-size:6.4px;font-weight:700;color:#1a1a1a;transform:scaleX(0.7972);-webkit-text-stroke:0.24px;">Aucun car ne circule les 1<sup style="font-size:60%;vertical-align:top;line-height:1">er</sup> janvier, 1<sup style="font-size:60%;vertical-align:top;line-height:1">er</sup> mai et 25 décembre.</span>
<span class="t" style="left:56.50px;top:111.20px;font-size:6.4px;color:#222;transform:scaleX(1.0517);-webkit-text-stroke:0.1px;">Acheter votre titre unitaire ou carnet 10 voyages sur</span>
<span class="t" style="left:56.50px;top:119.80px;font-size:6.4px;color:#222;transform:scaleX(1.0503);-webkit-text-stroke:0.1px;">votre smartphone c’est possible sur les lignes interurbaines</span>
<span class="t" style="left:18.90px;top:128.30px;font-size:6.4px;color:#222;transform:scaleX(1.0116);-webkit-text-stroke:0.1px;">du réseau BreizhGo grâce à l’application <b>BreizhGo M-Ticket</b></span>
<span class="t" style="left:18.90px;top:136.80px;font-size:6.4px;color:#222;transform:scaleX(1.0550);-webkit-text-stroke:0.1px;">téléchargeable sur votre smartphone.</span>
<span class="t" style="left:18.90px;top:145.10px;font-size:6.4px;color:#222;transform:scaleX(1.0455);-webkit-text-stroke:0.1px;">Pour les usagers empruntant les transports aux départs de Quimper</span>
<span class="t" style="left:18.90px;top:153.60px;font-size:6.4px;color:#222;transform:scaleX(1.0561);-webkit-text-stroke:0.1px;">ou de Brest, vous devez acheter votre titre de transport</span>
<span class="t" style="left:18.90px;top:162.10px;font-size:6.4px;color:#222;transform:scaleX(1.0351);-webkit-text-stroke:0.1px;">au guichet de la gare routière.</span>
<span class="t" style="left:18.90px;top:170.60px;font-size:6.4px;color:#222;transform:scaleX(1.0415);-webkit-text-stroke:0.1px;">Tous les points de vente sont consultables</span>
<span class="t" style="left:18.90px;top:178.90px;font-size:6.4px;color:#222;transform:scaleX(1.0605);-webkit-text-stroke:0.1px;">sur www.breizhgo.bzh</span>
<span class="t" style="left:18.90px;top:190.40px;font-size:7.0px;color:#222;transform:scaleX(1.0365);-webkit-text-stroke:0.1px;"><b style="color:#4a86bf">TARIFS</b> <span style="font-size:6.4px">Pour calculer le prix de votre trajet</span></span>
<span class="t" style="left:18.90px;top:197.80px;font-size:6.4px;color:#222;transform:scaleX(1.0163);-webkit-text-stroke:0.1px;">ou de votre abonnement, rendez-vous sur <b style="color:#111">www.breizhgo.bzh/tarifs-cars</b></span>
<span class="t" style="left:67.30px;top:209.60px;font-size:7.0px;font-weight:700;color:#fff;transform:scaleX(0.6653);-webkit-text-stroke:0.24px;">Titres</span>
<span class="t" style="left:207.11px;top:209.50px;font-size:7.0px;font-weight:700;color:#fff;transform:scaleX(0.7000);-webkit-text-stroke:0.24px;">Tarifs</span>
<span class="t" style="left:22.50px;top:242.18px;font-size:6.6px;font-weight:700;color:#fff;transform:scaleX(0.7105);-webkit-text-stroke:0.24px;">+ de 26 ans</span>
<span class="t" style="left:129.92px;top:218.60px;font-size:6.6px;font-weight:700;color:#1a1a1a;transform:scaleX(0.7000);-webkit-text-stroke:0.24px;">Occasionnel</span>
<span class="t" style="left:67.30px;top:226.95px;font-size:6.6px;color:#222;transform:scaleX(0.6912);-webkit-text-stroke:0.18px;text-decoration:underline;text-decoration-thickness:0.3px;text-underline-offset:0.4px;text-decoration-color:#445;">1 voyage</span>
<span class="t" style="left:207.00px;top:226.95px;font-size:6.6px;font-weight:700;color:#1a1a1a;transform:scaleX(0.7200);-webkit-text-stroke:0.24px;">2,50 €</span>
<span class="t" style="left:120.05px;top:234.70px;font-size:6.6px;font-weight:700;color:#1a1a1a;transform:scaleX(0.7000);-webkit-text-stroke:0.24px;">Occasionnel/fréquent</span>
<span class="t" style="left:67.30px;top:243.05px;font-size:6.6px;color:#222;transform:scaleX(0.7099);-webkit-text-stroke:0.18px;text-decoration:underline;text-decoration-thickness:0.3px;text-underline-offset:0.4px;text-decoration-color:#445;">Carnet 10 voyages</span>
<span class="t" style="left:208.98px;top:243.05px;font-size:6.6px;font-weight:700;color:#1a1a1a;transform:scaleX(0.7200);-webkit-text-stroke:0.24px;">20 €</span>
<span class="t" style="left:133.77px;top:250.80px;font-size:6.6px;font-weight:700;color:#1a1a1a;transform:scaleX(0.7000);-webkit-text-stroke:0.24px;">Fréquent</span>
<span class="t" style="left:67.30px;top:259.15px;font-size:6.6px;color:#222;transform:scaleX(0.7435);-webkit-text-stroke:0.18px;text-decoration:underline;text-decoration-thickness:0.3px;text-underline-offset:0.4px;text-decoration-color:#445;">Abonnement mensuel</span>
<span class="t" style="left:208.98px;top:259.15px;font-size:6.6px;font-weight:700;color:#1a1a1a;transform:scaleX(0.7200);-webkit-text-stroke:0.24px;">50 €</span>
<span class="t" style="left:67.30px;top:267.20px;font-size:6.6px;color:#222;transform:scaleX(0.7437);-webkit-text-stroke:0.18px;text-decoration:underline;text-decoration-thickness:0.3px;text-underline-offset:0.4px;text-decoration-color:#445;">Abonnement annuel</span>
<span class="t" style="left:207.65px;top:267.20px;font-size:6.6px;font-weight:700;color:#1a1a1a;transform:scaleX(0.7200);-webkit-text-stroke:0.24px;">500 €</span>
<span class="t" style="left:22.50px;top:299.98px;font-size:6.6px;font-weight:700;color:#fff;transform:scaleX(0.7142);-webkit-text-stroke:0.24px;">– de 26 ans</span>
<span class="t" style="left:129.92px;top:276.40px;font-size:6.6px;font-weight:700;color:#1a1a1a;transform:scaleX(0.7000);-webkit-text-stroke:0.24px;">Occasionnel</span>
<span class="t" style="left:67.30px;top:284.75px;font-size:6.6px;color:#222;transform:scaleX(0.6912);-webkit-text-stroke:0.18px;text-decoration:underline;text-decoration-thickness:0.3px;text-underline-offset:0.4px;text-decoration-color:#445;">1 voyage</span>
<span class="t" style="left:210.30px;top:284.75px;font-size:6.6px;font-weight:700;color:#1a1a1a;transform:scaleX(0.7200);-webkit-text-stroke:0.24px;">2 €</span>
<span class="t" style="left:120.05px;top:292.50px;font-size:6.6px;font-weight:700;color:#1a1a1a;transform:scaleX(0.7000);-webkit-text-stroke:0.24px;">Occasionnel/fréquent</span>
<span class="t" style="left:67.30px;top:300.85px;font-size:6.6px;color:#222;transform:scaleX(0.7099);-webkit-text-stroke:0.18px;text-decoration:underline;text-decoration-thickness:0.3px;text-underline-offset:0.4px;text-decoration-color:#445;">Carnet 10 voyages</span>
<span class="t" style="left:208.98px;top:300.85px;font-size:6.6px;font-weight:700;color:#1a1a1a;transform:scaleX(0.7200);-webkit-text-stroke:0.24px;">15 €</span>
<span class="t" style="left:133.77px;top:308.60px;font-size:6.6px;font-weight:700;color:#1a1a1a;transform:scaleX(0.7000);-webkit-text-stroke:0.24px;">Fréquent</span>
<span class="t" style="left:67.30px;top:316.95px;font-size:6.6px;color:#222;transform:scaleX(0.7435);-webkit-text-stroke:0.18px;text-decoration:underline;text-decoration-thickness:0.3px;text-underline-offset:0.4px;text-decoration-color:#445;">Abonnement mensuel</span>
<span class="t" style="left:208.98px;top:316.95px;font-size:6.6px;font-weight:700;color:#1a1a1a;transform:scaleX(0.7200);-webkit-text-stroke:0.24px;">25 €</span>
<span class="t" style="left:67.30px;top:325.00px;font-size:6.6px;color:#222;transform:scaleX(0.7437);-webkit-text-stroke:0.18px;text-decoration:underline;text-decoration-thickness:0.3px;text-underline-offset:0.4px;text-decoration-color:#445;">Abonnement annuel</span>
<span class="t" style="left:207.65px;top:325.00px;font-size:6.6px;font-weight:700;color:#1a1a1a;transform:scaleX(0.7200);-webkit-text-stroke:0.24px;">250 €</span>
<span class="t" style="left:24.66px;top:332.40px;font-size:6.8px;font-weight:700;color:#fff;transform:scaleX(0.7000);-webkit-text-stroke:0.24px;">Solidaire *</span>
<span class="t" style="left:67.30px;top:332.80px;font-size:6.6px;color:#222;transform:scaleX(0.6912);-webkit-text-stroke:0.18px;text-decoration:underline;text-decoration-thickness:0.3px;text-underline-offset:0.4px;text-decoration-color:#445;">1 voyage</span>
<span class="t" style="left:210.30px;top:332.80px;font-size:6.6px;font-weight:700;color:#1a1a1a;transform:scaleX(0.7200);-webkit-text-stroke:0.24px;">1 €</span>
<span class="t" style="left:20.96px;top:344.40px;font-size:6.8px;font-weight:700;color:#fff;transform:scaleX(0.7000);-webkit-text-stroke:0.24px;">– de 12 ans **</span>
<span class="t" style="left:65.30px;top:340.80px;font-size:6.6px;color:#222;transform:scaleX(0.7523);-webkit-text-stroke:0.18px;">Gratuit accompagné d’un adulte disposant d’un titre (hors abonnement).</span>
<span class="t" style="left:102.05px;top:347.90px;font-size:6.6px;color:#222;transform:scaleX(0.7318);-webkit-text-stroke:0.18px;text-decoration:underline;text-decoration-thickness:0.3px;text-underline-offset:0.5px;text-decoration-color:#445;">Un adulte peut accompagner 2 enfants.</span>
<span class="t" style="left:18.90px;top:357.50px;font-size:5.2px;color:#222;transform:scaleX(0.8242);-webkit-text-stroke:0.18px;">* Retrouvez les conditions d’accès au tarif Solidaire sur breizhgo.bzh</span>
<span class="t" style="left:165.00px;top:357.50px;font-size:5.2px;color:#222;transform:scaleX(0.8391);-webkit-text-stroke:0.18px;">** Un adulte pour deux enfants</span>
<span class="t" style="left:752.60px;top:47.00px;font-size:7.0px;font-weight:700;color:#4a86bf;transform:scaleX(0.9896);">COMMENT BIEN LIRE SA FICHE HORAIRE ?</span>
<span class="t" style="left:752.60px;top:60.50px;font-size:5.9px;transform:scaleX(0.6596);-webkit-text-stroke:0.18px;"><b>Légende des jours :</b> L : lundi, M : mardi, Me : mercredi, J : jeudi, V : vendredi, S : samedi, D : dimanche.</span>
<span class="t" style="left:752.60px;top:68.50px;font-size:5.9px;transform:scaleX(0.7421);-webkit-text-stroke:0.18px;">La fiche horaire est organisée en présentant l’origine du trajet en haut de la fiche horaire et la destination en bas.</span>
<span class="t" style="left:752.60px;top:76.50px;font-size:5.9px;transform:scaleX(0.7267);-webkit-text-stroke:0.18px;">Les départs sont classés de la gauche vers la droite.</span>
<span class="t" style="left:752.60px;top:84.70px;font-size:5.9px;transform:scaleX(0.7481);-webkit-text-stroke:0.18px;">Vérifier les jours et la période de circulation de l’horaire choisi.</span>
<span class="t" style="left:752.60px;top:92.80px;font-size:5.9px;transform:scaleX(0.7398);-webkit-text-stroke:0.18px;">Vérifier s’il y a un ou des renvois à consulter sur le jour et/ou l’horaire que vous avez sélectionnés.</span>
<span class="t" style="left:752.60px;top:101.00px;font-size:5.9px;transform:scaleX(0.7492);-webkit-text-stroke:0.18px;">Les aléas de la circulation peuvent entraîner des retards. Merci d’en tenir compte pour choisir votre horaire si</span>
<span class="t" style="left:752.60px;top:107.60px;font-size:5.9px;transform:scaleX(0.7468);-webkit-text-stroke:0.18px;">vous empruntez par la suite une correspondance.</span>
<span class="t" style="left:752.60px;top:115.60px;font-size:5.9px;transform:scaleX(0.7484);-webkit-text-stroke:0.18px;">Les horaires indiqués sont susceptibles d’être modifiés, pensez à vérifier sur www.breizhgo.bzh</span>
<span class="t" style="left:761.20px;top:134.80px;font-size:5.9px;transform:scaleX(0.7391);-webkit-text-stroke:0.18px;">Nos services sont accessibles aux personnes en fauteuil roulant, dans la limite d’une place par car. Pour votre</span>
<span class="t" style="left:761.20px;top:141.60px;font-size:5.9px;transform:scaleX(0.7519);-webkit-text-stroke:0.18px;">confort et pour vérifier les conditions d’accès aux points d’arrêt, il est fortement conseillé que les personnes</span>
<span class="t" style="left:761.20px;top:148.50px;font-size:5.9px;transform:scaleX(0.7594);-webkit-text-stroke:0.18px;">en fauteuil roulant réservent au <b>02 99 300 300</b> (au plus tard la veille du trajet avant 17h et le vendredi avant</span>
<span class="t" style="left:761.20px;top:155.30px;font-size:5.9px;transform:scaleX(0.7533);-webkit-text-stroke:0.18px;">17h pour les services du dimanche et du lundi).</span>
<span class="t" style="left:781.90px;top:252.60px;font-size:9.2px;transform:scaleX(0.6891);-webkit-text-stroke:0.18px;">TAD</span>
<span class="t" style="left:802.30px;top:253.00px;font-size:9.0px;font-weight:700;color:#14202c;transform:scaleX(0.8487);-webkit-text-stroke:0.24px;">POUR LE TRANSPORT À LA DEMANDE</span>
<span class="t" style="left:786.70px;top:272.00px;font-size:7.0px;color:#1c2a3a;transform:scaleX(1.0904);-webkit-text-stroke:0.1px;">La réservation s’effectue au plus tard la veille</span>
<span class="t" style="left:787.65px;top:282.20px;font-size:7.0px;color:#1c2a3a;transform:scaleX(1.0877);-webkit-text-stroke:0.1px;">du trajet avant 17 h et le vendredi avant 17 h</span>
<span class="t" style="left:779.00px;top:292.20px;font-size:7.0px;color:#1c2a3a;transform:scaleX(1.0956);-webkit-text-stroke:0.1px;">pour un trajet le dimanche ou le lundi en appelant</span>
<span class="t" style="left:833.05px;top:302.60px;font-size:7.0px;color:#1c2a3a;transform:scaleX(1.1067);-webkit-text-stroke:0.1px;">le <b>02 99 300 300</b>.</span>
<span class="t" style="left:781.85px;top:315.80px;font-size:7.0px;color:#1c2a3a;transform:scaleX(1.0917);-webkit-text-stroke:0.1px;">L’annulation d’un trajet est possible jusqu’à 17 h</span>
<span class="t" style="left:780.10px;top:326.30px;font-size:7.0px;color:#1c2a3a;transform:scaleX(1.0925);-webkit-text-stroke:0.1px;">la veille du départ (et le vendredi avant 17 h pour</span>
<span class="t" style="left:780.20px;top:336.80px;font-size:7.0px;color:#1c2a3a;transform:scaleX(1.1140);-webkit-text-stroke:0.1px;">l’annulation d’un trajet du dimanche et du lundi).</span>
<span class="t" style="left:268.90px;top:367.20px;font-size:5.9px;transform:scaleX(0.7800);-webkit-text-stroke:0.18px;">Montée uniquement;</span>
<span class="t" style="left:320.90px;top:367.20px;font-size:5.9px;transform:scaleX(0.7608);-webkit-text-stroke:0.18px;">Descente uniquement; <b>A-</b> Service à vocation scolaire. Circule les lundis scolaires et les jours de reprise de classe; <b>B-</b> Le jeudi, jour de marché, l’arrêt Huelgoat bourg est déplacé à l’Hotel du Lac</span>
<span class="t" style="left:268.70px;top:745.80px;font-size:5.9px;transform:scaleX(0.7632);-webkit-text-stroke:0.18px;">Montée uniquement; <b>A-</b> Service à vocation scolaire. Circule les lundis scolaires et les jours de reprise de classe; <b>B-</b> Navettes vers établissements scolaires;</span>
<span class="t" style="left:260.50px;top:753.30px;font-size:5.9px;transform:scaleX(0.7601);-webkit-text-stroke:0.18px;"><b>C-</b> Le jeudi, jour de marché, l’arrêt Huelgoat bourg est déplacé à l’Hotel du Lac</span>
<span class="t" style="left:18.90px;top:429.60px;font-size:6.8px;font-weight:700;color:#4a86bf;transform:scaleX(1.0127);">INFORMATIONS PRATIQUES</span>
<span class="t" style="left:18.90px;top:438.80px;font-size:6.2px;color:#262626;transform:scaleX(1.0382);-webkit-text-stroke:0.1px;">• Présentez-vous à l’arrêt 5 minutes avant l’heure de passage prévue.</span>
<span class="t" style="left:18.90px;top:447.80px;font-size:6.2px;color:#262626;transform:scaleX(1.0525);-webkit-text-stroke:0.1px;">• Pour demander l’arrêt de l’autocar, faites signe au conducteur.</span>
<span class="t" style="left:18.90px;top:456.80px;font-size:6.2px;color:#262626;transform:scaleX(1.0657);-webkit-text-stroke:0.1px;">• Préparez votre titre de transport ou votre monnaie si vous achetez</span>
<span class="t" style="left:23.50px;top:464.50px;font-size:6.2px;color:#262626;transform:scaleX(1.0805);-webkit-text-stroke:0.1px;">votre titre de transport au conducteur. Merci de faire l’appoint.</span>
<span class="t" style="left:18.90px;top:472.80px;font-size:6.2px;color:#262626;transform:scaleX(1.0846);-webkit-text-stroke:0.1px;">• Pour tout trajet, l’usager doit présenter un titre de transport valide et</span>
<span class="t" style="left:23.50px;top:480.30px;font-size:6.2px;color:#262626;transform:scaleX(1.0414);-webkit-text-stroke:0.1px;">validé, sous peine de verbalisation.</span>
<span class="t" style="left:18.90px;top:489.00px;font-size:6.2px;color:#262626;transform:scaleX(1.0316);-webkit-text-stroke:0.1px;">• <b>Les animaux</b> ne sont pas admis à bord des véhicules, exception faite</span>
<span class="t" style="left:23.50px;top:496.80px;font-size:6.2px;color:#262626;transform:scaleX(1.0589);-webkit-text-stroke:0.1px;">des animaux domestiques de petite taille transportés dans des paniers</span>
<span class="t" style="left:23.50px;top:504.80px;font-size:6.2px;color:#262626;transform:scaleX(0.9876);-webkit-text-stroke:0.1px;">et <b>des chiens guides d’aveugles et d’assistance tenus en laisse</b></span>
<span class="t" style="left:23.50px;top:512.50px;font-size:6.2px;color:#262626;transform:scaleX(1.0112);-webkit-text-stroke:0.1px;"><b>et sur présentation d’un justificatif pour les chiens guides</b></span>
<span class="t" style="left:23.50px;top:520.00px;font-size:6.2px;color:#262626;transform:scaleX(1.0339);-webkit-text-stroke:0.1px;"><b>en formation/apprentissage</b>.</span>
<span class="t" style="left:18.90px;top:528.30px;font-size:6.2px;color:#262626;transform:scaleX(1.0042);-webkit-text-stroke:0.1px;">• <b>Les bagages trop encombrants</b> ne tenant pas sous les sièges, dans les</span>
<span class="t" style="left:23.50px;top:535.80px;font-size:6.2px;color:#262626;transform:scaleX(1.0435);-webkit-text-stroke:0.1px;">porte-bagages et les soutes, pourront être refusés. Les bagages restent</span>
<span class="t" style="left:23.50px;top:543.30px;font-size:6.2px;color:#262626;transform:scaleX(1.0627);-webkit-text-stroke:0.1px;">sous la responsabilité de leur propriétaire.</span>
<span class="t" style="left:18.90px;top:552.50px;font-size:6.2px;color:#262626;transform:scaleX(1.0338);-webkit-text-stroke:0.1px;">• <b>Les objets individuels de mobilité</b> sont autorisés en soute en fonction</span>
<span class="t" style="left:23.50px;top:560.00px;font-size:6.2px;color:#262626;transform:scaleX(1.0290);-webkit-text-stroke:0.1px;">de l’espace disponible et sous réserve qu’ils soient pliés dans une housse.</span>
<span class="t" style="left:18.90px;top:568.80px;font-size:6.2px;color:#262626;transform:scaleX(1.0331);-webkit-text-stroke:0.1px;">• <b>Pour les groupes</b> de plus de 8 personnes, contactez le 02 99 300 300 au</span>
<span class="t" style="left:23.50px;top:575.80px;font-size:6.2px;color:#262626;transform:scaleX(1.0176);-webkit-text-stroke:0.1px;">moins 72 heures à l’avance.</span>
<span class="t" style="left:67.75px;top:591.50px;font-size:7.0px;font-weight:700;color:#1a1a1a;transform:scaleX(0.9830);">Rendez-vous sur www.breizhgo.bzh</span>
<span class="t" style="left:87.05px;top:600.60px;font-size:7.0px;color:#262626;transform:scaleX(0.9841);-webkit-text-stroke:0.1px;">(rubrique INFOS TRAFIC)</span>
<span class="t" style="left:67.75px;top:609.80px;font-size:7.0px;font-weight:700;color:#1a1a1a;transform:scaleX(1.0526);">pour retrouver toute l’information</span>
<span class="t" style="left:50.55px;top:619.10px;font-size:7.0px;font-weight:700;color:#1a1a1a;transform:scaleX(1.0064);">sur l’état du trafic du réseau BreizhGo en car.</span>
<span class="t" style="left:93.80px;top:641.40px;font-size:7.2px;font-weight:700;color:#4a86bf;transform:scaleX(0.9600);">RENSEIGNEMENTS</span>
<span class="t" style="left:100.20px;top:652.50px;font-size:6.6px;font-weight:700;color:#1a1a1a;transform:scaleX(0.9021);">www.breizhgo.bzh</span>
<span class="t" style="left:83.70px;top:662.80px;font-size:9.2px;font-weight:700;color:#1a1a1a;transform:scaleX(1.0652);">02 99 300 300</span>
<span class="t" style="left:149.50px;top:664.70px;font-size:4.6px;color:#1a1a1a;transform:scaleX(0.9846);-webkit-text-stroke:0.1px;">Prix</span>
<span class="t" style="left:149.50px;top:669.70px;font-size:4.6px;color:#1a1a1a;transform:scaleX(0.8830);-webkit-text-stroke:0.1px;">d’un appel local</span>
<span class="t" style="left:79.70px;top:683.90px;font-size:6.6px;font-weight:700;color:#1a1a1a;transform:scaleX(0.9470);">Du lundi au samedi de 8h à 20h</span>
<span class="t" style="left:60.60px;top:693.70px;font-size:6.2px;color:#262626;transform:scaleX(1.0479);-webkit-text-stroke:0.1px;">Contactez-nous grâce au formulaire en ligne :</span>
<span class="t" style="left:75.50px;top:701.80px;font-size:6.6px;font-weight:700;color:#1a1a1a;transform:scaleX(0.9450);">www.breizhgo.bzh/nous-contacter</span>
<span class="t" style="left:240.60px;top:753.50px;font-size:3.6px;color:#333;transform-origin:0 2px;transform:rotate(-90deg) scaleX(1.0509);-webkit-text-stroke:0.1px;">Conception graphique : ©Direction de la communication/Région Bretagne – Impression : CLOITRE Imprimeurs</span>
<span class="t" style="left:754.50px;top:693.60px;font-size:6.4px;font-weight:700;color:#1a1a1a;transform-origin:0 5px;transform:rotate(-45deg) scaleX(0.7635);-webkit-text-stroke:0.24px;">MORLAIX</span>
<span class="t" style="left:771.20px;top:694.40px;font-size:6.4px;color:#444;transform-origin:0 5px;transform:rotate(-45deg) scaleX(0.7778);-webkit-text-stroke:0;">Pleyber-Christ</span>
<span class="t" style="left:787.00px;top:694.40px;font-size:6.4px;color:#444;transform-origin:0 5px;transform:rotate(-45deg) scaleX(0.8027);-webkit-text-stroke:0;">Plounéour-Ménez</span>
<span class="t" style="left:802.50px;top:694.40px;font-size:6.4px;color:#444;transform-origin:0 5px;transform:rotate(-45deg) scaleX(0.7836);-webkit-text-stroke:0;">La Feuillée</span>
<span class="t" style="left:817.70px;top:694.40px;font-size:6.4px;color:#444;transform-origin:0 5px;transform:rotate(-45deg) scaleX(0.8362);-webkit-text-stroke:0;">Brennilis</span>
<span class="t" style="left:833.50px;top:694.40px;font-size:6.4px;color:#444;transform-origin:0 5px;transform:rotate(-45deg) scaleX(0.8400);-webkit-text-stroke:0;">Huelgoat</span>
<span class="t" style="left:851.00px;top:694.40px;font-size:6.4px;color:#444;transform-origin:0 5px;transform:rotate(-45deg) scaleX(0.8196);-webkit-text-stroke:0;">Loqueffret</span>
<span class="t" style="left:866.20px;top:694.40px;font-size:6.4px;color:#444;transform-origin:0 5px;transform:rotate(-45deg) scaleX(0.8016);-webkit-text-stroke:0;">Lannédern</span>
<span class="t" style="left:882.00px;top:694.40px;font-size:6.4px;color:#444;transform-origin:0 5px;transform:rotate(-45deg) scaleX(0.7858);-webkit-text-stroke:0;">Brasparts</span>
<span class="t" style="left:898.00px;top:694.40px;font-size:6.4px;color:#444;transform-origin:0 5px;transform:rotate(-45deg) scaleX(0.7787);-webkit-text-stroke:0;">Plonévez-Du-Faou</span>
<span class="t" style="left:915.20px;top:694.40px;font-size:6.4px;color:#444;transform-origin:0 5px;transform:rotate(-45deg) scaleX(0.8020);-webkit-text-stroke:0;">Châteauneuf-Du-Faou</span>
<span class="t" style="left:931.00px;top:694.40px;font-size:6.4px;color:#444;transform-origin:0 5px;transform:rotate(-45deg) scaleX(0.8005);-webkit-text-stroke:0;">Pleyben</span>
<span class="t" style="left:946.70px;top:694.40px;font-size:6.4px;color:#444;transform-origin:0 5px;transform:rotate(-45deg) scaleX(0.8240);-webkit-text-stroke:0;">Briec</span>
<span class="t" style="left:962.00px;top:693.60px;font-size:6.4px;font-weight:700;color:#1a1a1a;transform-origin:0 5px;transform:rotate(-45deg) scaleX(0.8214);-webkit-text-stroke:0.24px;">QUIMPER</span>
<span class="t" style="left:752.80px;top:732.40px;font-size:6.6px;color:#222;transform:scaleX(0.7269);-webkit-text-stroke:0.18px;">Un service opéré par</span>
<span class="t" style="left:766.90px;top:742.50px;font-size:8.0px;color:#e63a4a;transform:scaleX(0.9970);letter-spacing:0.2px;">transdev</span>
<span class="t" style="left:767.30px;top:752.00px;font-size:4.8px;font-weight:700;color:#e4233a;transform:scaleX(1.1770);">CAT</span>
<svg style="left:614.91px;top:163.10px" width="7.6" height="7.6" viewBox="-10 -10 20 20"><circle r="10" fill="#111"/><path d="M-4.5 -5.5H5.5V4.5M5.5 -5.5L-5.5 5.5" fill="none" stroke="#fff" stroke-width="3"/></svg>
<svg style="left:614.91px;top:177.22px" width="7.6" height="7.6" viewBox="-10 -10 20 20"><circle r="10" fill="#111"/><path d="M-4.5 -5.5H5.5V4.5M5.5 -5.5L-5.5 5.5" fill="none" stroke="#fff" stroke-width="3"/></svg>
<svg style="left:357.45px;top:318.53px" width="7.5" height="7.5" viewBox="-10 -10 20 20"><circle r="10" fill="#111"/><path d="M-4.5 5.5H5.5V-4.5M5.5 5.5L-5.5 -5.5" fill="none" stroke="#fff" stroke-width="3"/></svg>
<svg style="left:438.67px;top:535.83px" width="7.6" height="7.6" viewBox="-10 -10 20 20"><circle r="10" fill="#111"/><path d="M-4.5 -5.5H5.5V4.5M5.5 -5.5L-5.5 5.5" fill="none" stroke="#fff" stroke-width="3"/></svg>
<svg style="left:408.90px;top:11.50px" width="11.6" height="11.6" viewBox="0 0 24 24"><rect width="24" height="24" rx="5.2" fill="#fff"/><circle cx="10.5" cy="5.2" r="2.1" fill="#222"/><path d="M10.2 8.2V14H16.5L19 19.5" fill="none" stroke="#222" stroke-width="2.2" stroke-linecap="round" stroke-linejoin="round"/><path d="M10.4 10.8H15" stroke="#222" stroke-width="1.8" stroke-linecap="round"/><path d="M8 10.6A5.4 5.4 0 1 0 15.6 17.4" fill="none" stroke="#222" stroke-width="2"/></svg>
<svg style="left:408.00px;top:401.30px" width="11.5" height="11.5" viewBox="0 0 24 24"><rect width="24" height="24" rx="5.2" fill="#fff"/><circle cx="10.5" cy="5.2" r="2.1" fill="#222"/><path d="M10.2 8.2V14H16.5L19 19.5" fill="none" stroke="#222" stroke-width="2.2" stroke-linecap="round" stroke-linejoin="round"/><path d="M10.4 10.8H15" stroke="#222" stroke-width="1.8" stroke-linecap="round"/><path d="M8 10.6A5.4 5.4 0 1 0 15.6 17.4" fill="none" stroke="#222" stroke-width="2"/></svg>
<svg style="left:752.50px;top:132.50px" width="7.6" height="7.6" viewBox="0 0 24 24"><rect width="24" height="24" rx="4.7" fill="#1f4e8c"/><circle cx="10.5" cy="5.2" r="2.1" fill="#fff"/><path d="M10.2 8.2V14H16.5L19 19.5" fill="none" stroke="#fff" stroke-width="2.2" stroke-linecap="round" stroke-linejoin="round"/><path d="M10.4 10.8H15" stroke="#fff" stroke-width="1.8" stroke-linecap="round"/><path d="M8 10.6A5.4 5.4 0 1 0 15.6 17.4" fill="none" stroke="#fff" stroke-width="2"/></svg>
<svg style="left:260.75px;top:364.95px" width="7.5" height="7.5" viewBox="-10 -10 20 20"><circle r="10" fill="#111"/><path d="M-4.5 -5.5H5.5V4.5M5.5 -5.5L-5.5 5.5" fill="none" stroke="#fff" stroke-width="3"/></svg>
<svg style="left:312.65px;top:364.95px" width="7.5" height="7.5" viewBox="-10 -10 20 20"><circle r="10" fill="#111"/><path d="M-4.5 5.5H5.5V-4.5M5.5 5.5L-5.5 -5.5" fill="none" stroke="#fff" stroke-width="3"/></svg>
<svg style="left:260.55px;top:743.05px" width="7.5" height="7.5" viewBox="-10 -10 20 20"><circle r="10" fill="#111"/><path d="M-4.5 -5.5H5.5V4.5M5.5 -5.5L-5.5 5.5" fill="none" stroke="#fff" stroke-width="3"/></svg>
<div class="b" style="left:892.50px;top:533.50px;width:0.70px;height:13.00px;background:#8db4d6;"></div>
<div class="b" style="left:831.20px;top:550.20px;width:0.70px;height:12.60px;background:#8db4d6;"></div>
<span class="t" style="left:268.25px;top:12.80px;font-size:6.6px;color:#e8f0f8;transform:scaleX(0.7931);-webkit-text-stroke:0;">LIGNE</span>
<span class="t" style="left:264.15px;top:20.40px;font-size:14.6px;font-weight:700;color:#fff;transform:scaleX(0.9811);">960</span>
<span class="t" style="left:302.70px;top:12.90px;font-size:11px;font-weight:700;color:#fff;transform:scaleX(0.8565);-webkit-text-stroke:0.24px;">MORLAIX – QUIMPER</span>
<span class="t" style="left:268.20px;top:401.80px;font-size:6.6px;color:#e8f0f8;transform:scaleX(0.7830);-webkit-text-stroke:0;">LIGNE</span>
<span class="t" style="left:264.00px;top:409.80px;font-size:14.6px;font-weight:700;color:#fff;transform:scaleX(0.9811);">960</span>
<span class="t" style="left:302.50px;top:402.10px;font-size:11px;font-weight:700;color:#fff;transform:scaleX(0.8574);-webkit-text-stroke:0.24px;">QUIMPER – MORLAIX</span>
<span class="t" style="left:851.70px;top:424.00px;font-size:8.8px;color:#fff;transform:scaleX(0.8634);">LIGNE</span>
<span class="t" style="left:843.10px;top:433.50px;font-size:22.6px;font-weight:700;color:#fff;transform:scaleX(1.0609);">960</span>
<span class="t" style="left:812.95px;top:469.70px;font-size:11.6px;font-weight:700;color:#7d9fd2;transform:scaleX(0.9037);">Horaires valables du</span>
<span class="t" style="left:771.60px;top:483.40px;font-size:11.6px;font-weight:700;color:#fff;transform:scaleX(0.9396);">1<span style="font-size:6.6px;vertical-align:3.6px;line-height:0">er</span> septembre au 13 décembre 2025</span>
<span class="t" style="left:825.50px;top:498.00px;font-size:4.8px;font-weight:700;color:#f2f2f2;font-style:italic;transform:scaleX(1.0833);">sous réserve de modifications</span>
<span class="t" style="left:829.80px;top:533.20px;font-size:14.0px;font-weight:700;color:#fff;transform:scaleX(0.9092);">MORLAIX</span>
<span class="t" style="left:834.80px;top:549.40px;font-size:14.0px;font-weight:700;color:#fff;transform:scaleX(0.9060);">QUIMPER</span>
<svg style="left:301.00px;top:132.30px" width="29.8" height="15.3"><rect x="0.5" y="0.5" width="28.8" height="14.3" fill="none" stroke="#9a9a9a" stroke-width="1" stroke-dasharray="1.9 1.4"/></svg>
<svg style="left:699.10px;top:709.40px" width="29.2" height="14.3"><rect x="0.5" y="0.5" width="28.2" height="13.3" fill="none" stroke="#9a9a9a" stroke-width="1" stroke-dasharray="1.9 1.4"/></svg>
<svg style="left:317.90px;top:135.70px" width="9.1" height="9.1" viewBox="0 0 18 18"><rect width="18" height="18" rx="3" fill="#6a6a6a"/><path d="M4.5 7L9 11.5L13.5 7" fill="none" stroke="#fff" stroke-width="1.8"/></svg>
<svg style="left:715.60px;top:712.00px" width="9.2" height="9.2" viewBox="0 0 18 18"><rect width="18" height="18" rx="3" fill="#6a6a6a"/><path d="M4.5 7L9 11.5L13.5 7" fill="none" stroke="#fff" stroke-width="1.8"/></svg>
<div class="b" style="left:2.20px;top:766.90px;width:983.70px;height:1.10px;background:#ececec;"></div>
</body></html>
